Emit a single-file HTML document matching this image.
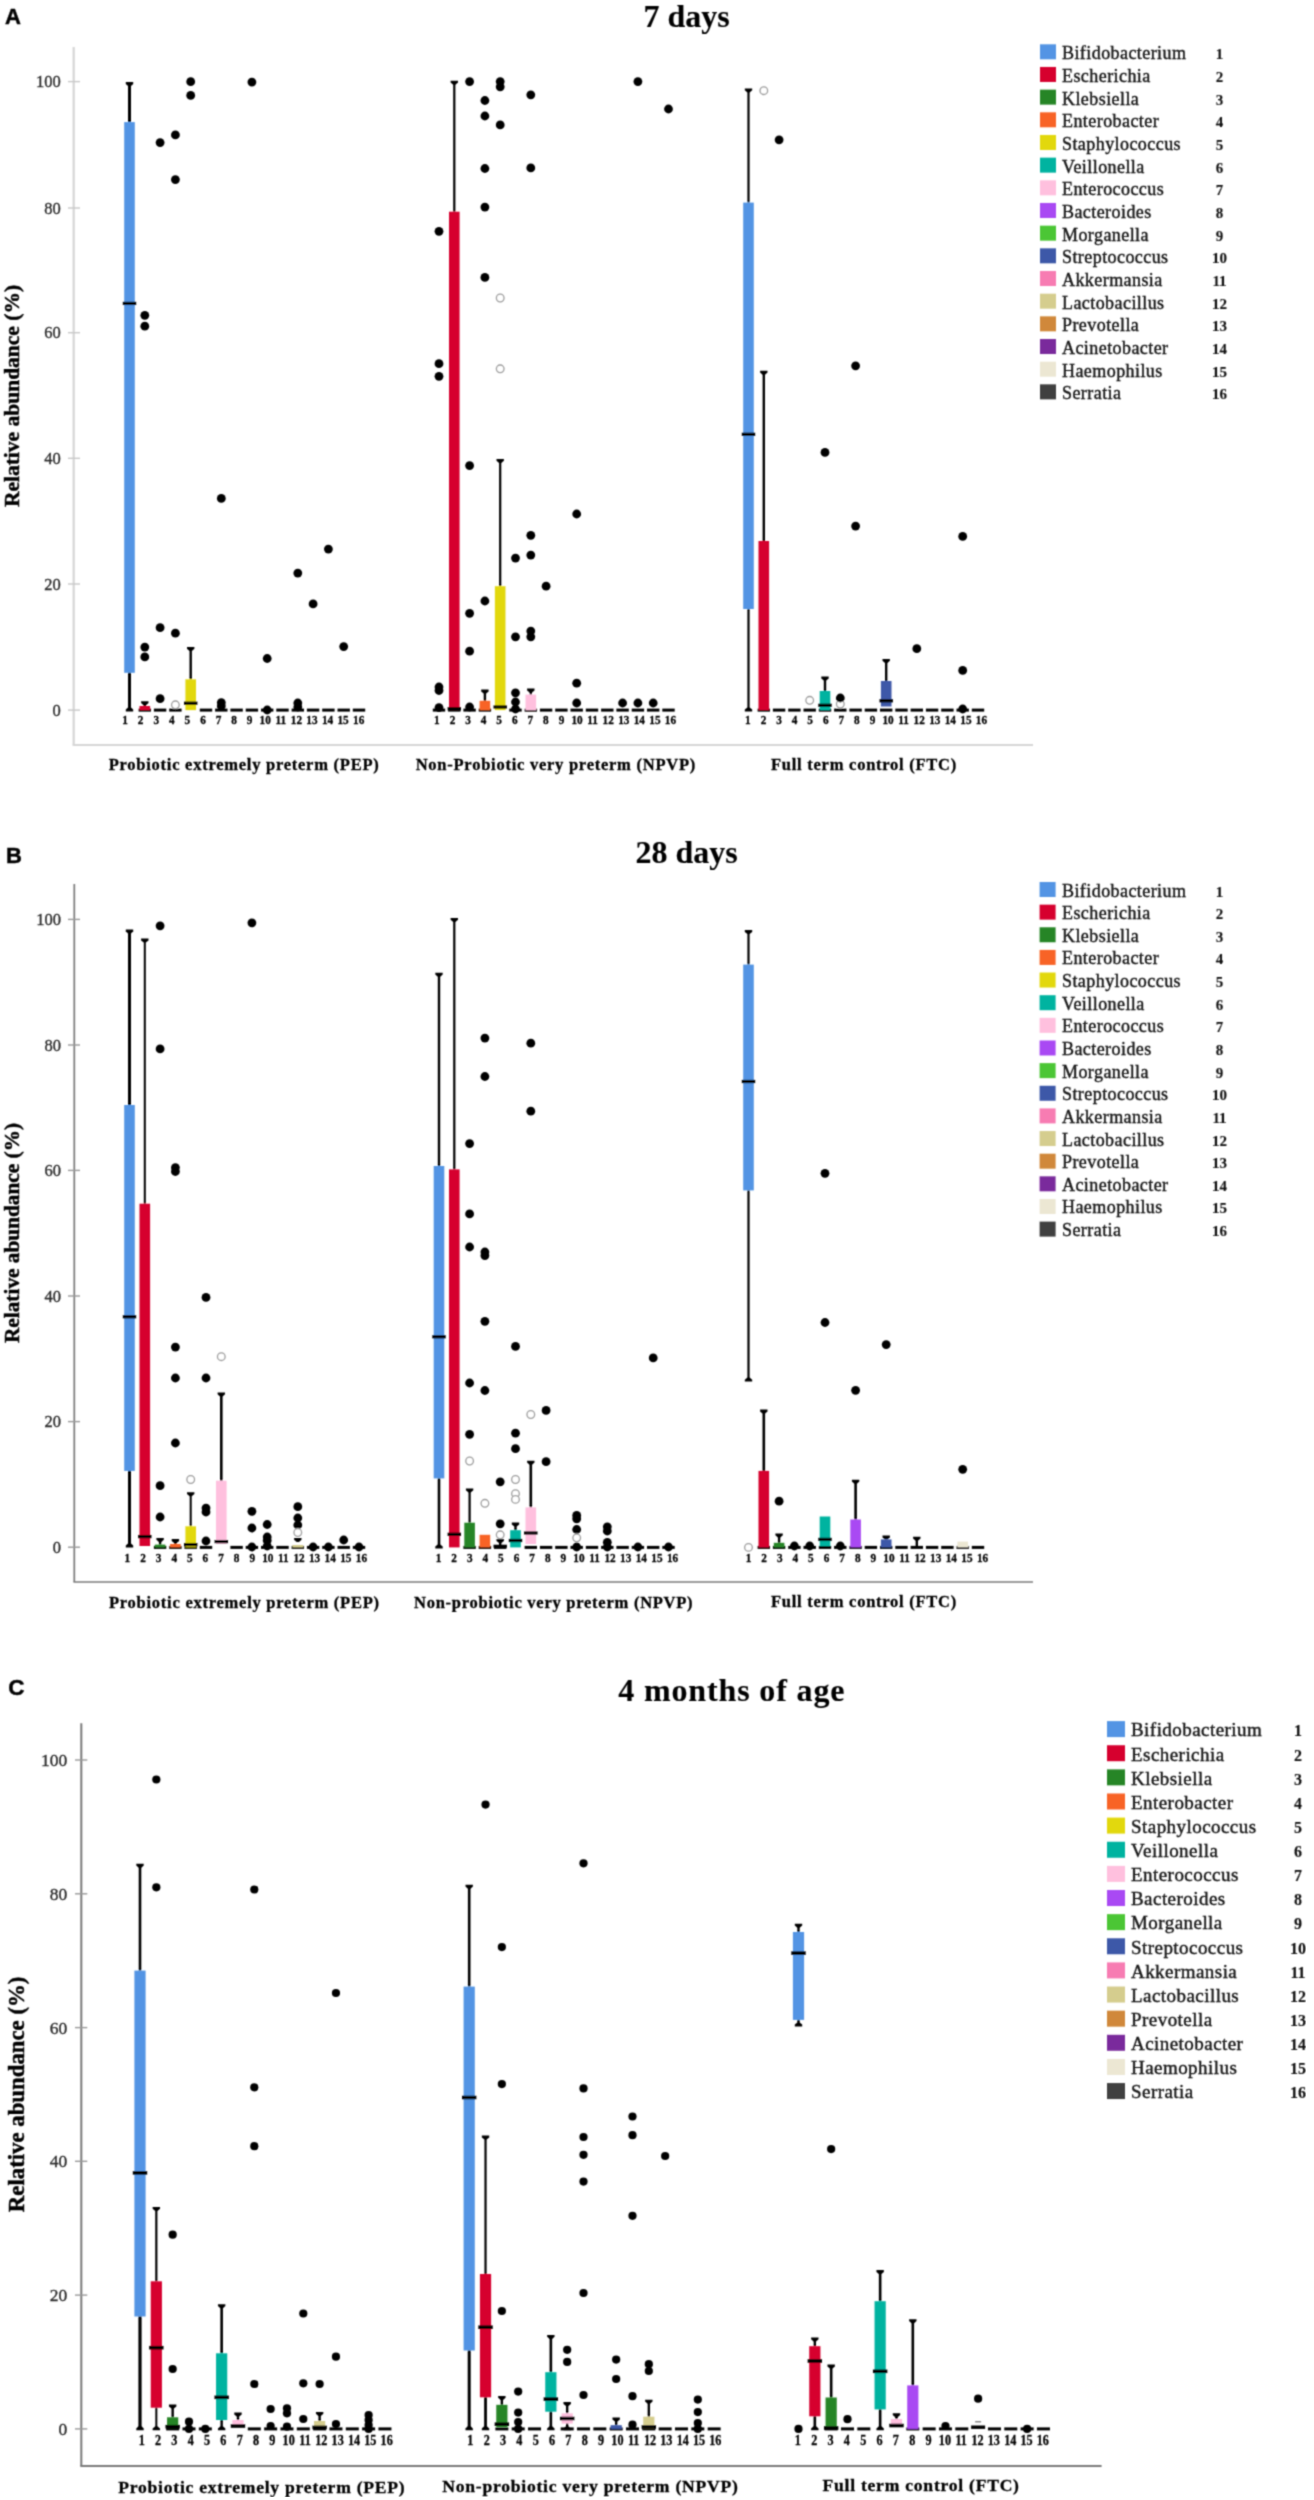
<!DOCTYPE html>
<html><head><meta charset="utf-8"><title>Relative abundance box plots</title>
<style>html,body{margin:0;padding:0;background:#fff;} svg{display:block;}</style></head>
<body><svg width="1314" height="2500" viewBox="0 0 1314 2500">
<defs><filter id="bl" x="0" y="0" width="100%" height="100%"><feConvolveMatrix order="3" kernelMatrix="0.04 0.12 0.04 0.12 0.36 0.12 0.04 0.12 0.04" divisor="1" preserveAlpha="false" edgeMode="none"/></filter></defs>
<rect x="0" y="0" width="1314" height="2500" fill="#fff"/>
<g filter="url(#bl)">
<text x="5.00" y="24.00" font-family="Liberation Sans" font-size="22" font-weight="bold" text-anchor="start" fill="#000" stroke="#000" stroke-width="0.45" >A</text>
<text x="686.70" y="26.90" font-family="Liberation Serif" font-size="32" font-weight="bold" text-anchor="middle" fill="#000" stroke="#000" stroke-width="0.1" >7 days</text>
<line x1="73.7" y1="47" x2="73.7" y2="745" stroke="#d6d6d6" stroke-width="2.2"/>
<line x1="72.60000000000001" y1="745" x2="1033" y2="745" stroke="#d6d6d6" stroke-width="2.2"/>
<line x1="68" y1="81.6" x2="80" y2="81.6" stroke="#c8c8c8" stroke-width="1.4"/>
<text x="60.80" y="87.21" font-family="Liberation Serif" font-size="16.5" font-weight="normal" text-anchor="end" fill="#2a2a2a" stroke="#2a2a2a" stroke-width="0.35" >100</text>
<line x1="68" y1="208" x2="80" y2="208" stroke="#c8c8c8" stroke-width="1.4"/>
<text x="60.80" y="213.61" font-family="Liberation Serif" font-size="16.5" font-weight="normal" text-anchor="end" fill="#2a2a2a" stroke="#2a2a2a" stroke-width="0.35" >80</text>
<line x1="68" y1="332.7" x2="80" y2="332.7" stroke="#c8c8c8" stroke-width="1.4"/>
<text x="60.80" y="338.31" font-family="Liberation Serif" font-size="16.5" font-weight="normal" text-anchor="end" fill="#2a2a2a" stroke="#2a2a2a" stroke-width="0.35" >60</text>
<line x1="68" y1="458.3" x2="80" y2="458.3" stroke="#c8c8c8" stroke-width="1.4"/>
<text x="60.80" y="463.91" font-family="Liberation Serif" font-size="16.5" font-weight="normal" text-anchor="end" fill="#2a2a2a" stroke="#2a2a2a" stroke-width="0.35" >40</text>
<line x1="68" y1="584" x2="80" y2="584" stroke="#c8c8c8" stroke-width="1.4"/>
<text x="60.80" y="589.61" font-family="Liberation Serif" font-size="16.5" font-weight="normal" text-anchor="end" fill="#2a2a2a" stroke="#2a2a2a" stroke-width="0.35" >20</text>
<line x1="68" y1="710.1" x2="80" y2="710.1" stroke="#c8c8c8" stroke-width="1.4"/>
<text x="60.80" y="715.71" font-family="Liberation Serif" font-size="16.5" font-weight="normal" text-anchor="end" fill="#2a2a2a" stroke="#2a2a2a" stroke-width="0.35" >0</text>
<text x="19.00" y="396.00" font-family="Liberation Serif" font-size="21.5" font-weight="bold" text-anchor="middle" fill="#000" stroke="#000" stroke-width="0.45" transform="rotate(-90 19 396)">Relative abundance (%)</text>
<text x="108.70" y="770.00" font-family="Liberation Serif" font-size="16.5" font-weight="bold" text-anchor="start" fill="#000" stroke="#000" stroke-width="0.3" letter-spacing="0.75">Probiotic extremely preterm (PEP)</text>
<text x="415.70" y="770.00" font-family="Liberation Serif" font-size="16.5" font-weight="bold" text-anchor="start" fill="#000" stroke="#000" stroke-width="0.3" letter-spacing="0.75">Non-Probiotic very preterm (NPVP)</text>
<text x="771.00" y="770.00" font-family="Liberation Serif" font-size="16.5" font-weight="bold" text-anchor="start" fill="#000" stroke="#000" stroke-width="0.3" letter-spacing="0.75">Full term control (FTC)</text>
<rect x="1040.00" y="44.30" width="16.00" height="15.00" fill="#5294e4"/>
<text x="1062.00" y="59.30" font-family="Liberation Serif" font-size="18" font-weight="normal" text-anchor="start" fill="#151515" stroke="#151515" stroke-width="0.4" letter-spacing="0.43">Bifidobacterium</text>
<text x="1219.50" y="59.30" font-family="Liberation Serif" font-size="15" font-weight="bold" text-anchor="middle" fill="#111" stroke="#111" stroke-width="0.1" >1</text>
<rect x="1040.00" y="66.97" width="16.00" height="15.00" fill="#d6002f"/>
<text x="1062.00" y="81.97" font-family="Liberation Serif" font-size="18" font-weight="normal" text-anchor="start" fill="#151515" stroke="#151515" stroke-width="0.4" letter-spacing="0.43">Escherichia</text>
<text x="1219.50" y="81.97" font-family="Liberation Serif" font-size="15" font-weight="bold" text-anchor="middle" fill="#111" stroke="#111" stroke-width="0.1" >2</text>
<rect x="1040.00" y="89.64" width="16.00" height="15.00" fill="#288528"/>
<text x="1062.00" y="104.64" font-family="Liberation Serif" font-size="18" font-weight="normal" text-anchor="start" fill="#151515" stroke="#151515" stroke-width="0.4" letter-spacing="0.43">Klebsiella</text>
<text x="1219.50" y="104.64" font-family="Liberation Serif" font-size="15" font-weight="bold" text-anchor="middle" fill="#111" stroke="#111" stroke-width="0.1" >3</text>
<rect x="1040.00" y="112.31" width="16.00" height="15.00" fill="#f86428"/>
<text x="1062.00" y="127.31" font-family="Liberation Serif" font-size="18" font-weight="normal" text-anchor="start" fill="#151515" stroke="#151515" stroke-width="0.4" letter-spacing="0.43">Enterobacter</text>
<text x="1219.50" y="127.31" font-family="Liberation Serif" font-size="15" font-weight="bold" text-anchor="middle" fill="#111" stroke="#111" stroke-width="0.1" >4</text>
<rect x="1040.00" y="134.98" width="16.00" height="15.00" fill="#e2d80e"/>
<text x="1062.00" y="149.98" font-family="Liberation Serif" font-size="18" font-weight="normal" text-anchor="start" fill="#151515" stroke="#151515" stroke-width="0.4" letter-spacing="0.43">Staphylococcus</text>
<text x="1219.50" y="149.98" font-family="Liberation Serif" font-size="15" font-weight="bold" text-anchor="middle" fill="#111" stroke="#111" stroke-width="0.1" >5</text>
<rect x="1040.00" y="157.65" width="16.00" height="15.00" fill="#02b3a0"/>
<text x="1062.00" y="172.65" font-family="Liberation Serif" font-size="18" font-weight="normal" text-anchor="start" fill="#151515" stroke="#151515" stroke-width="0.4" letter-spacing="0.43">Veillonella</text>
<text x="1219.50" y="172.65" font-family="Liberation Serif" font-size="15" font-weight="bold" text-anchor="middle" fill="#111" stroke="#111" stroke-width="0.1" >6</text>
<rect x="1040.00" y="180.32" width="16.00" height="15.00" fill="#ffc0de"/>
<text x="1062.00" y="195.32" font-family="Liberation Serif" font-size="18" font-weight="normal" text-anchor="start" fill="#151515" stroke="#151515" stroke-width="0.4" letter-spacing="0.43">Enterococcus</text>
<text x="1219.50" y="195.32" font-family="Liberation Serif" font-size="15" font-weight="bold" text-anchor="middle" fill="#111" stroke="#111" stroke-width="0.1" >7</text>
<rect x="1040.00" y="202.99" width="16.00" height="15.00" fill="#a94af3"/>
<text x="1062.00" y="217.99" font-family="Liberation Serif" font-size="18" font-weight="normal" text-anchor="start" fill="#151515" stroke="#151515" stroke-width="0.4" letter-spacing="0.43">Bacteroides</text>
<text x="1219.50" y="217.99" font-family="Liberation Serif" font-size="15" font-weight="bold" text-anchor="middle" fill="#111" stroke="#111" stroke-width="0.1" >8</text>
<rect x="1040.00" y="225.66" width="16.00" height="15.00" fill="#4cc634"/>
<text x="1062.00" y="240.66" font-family="Liberation Serif" font-size="18" font-weight="normal" text-anchor="start" fill="#151515" stroke="#151515" stroke-width="0.4" letter-spacing="0.43">Morganella</text>
<text x="1219.50" y="240.66" font-family="Liberation Serif" font-size="15" font-weight="bold" text-anchor="middle" fill="#111" stroke="#111" stroke-width="0.1" >9</text>
<rect x="1040.00" y="248.33" width="16.00" height="15.00" fill="#3e59a8"/>
<text x="1062.00" y="263.33" font-family="Liberation Serif" font-size="18" font-weight="normal" text-anchor="start" fill="#151515" stroke="#151515" stroke-width="0.4" letter-spacing="0.43">Streptococcus</text>
<text x="1219.50" y="263.33" font-family="Liberation Serif" font-size="15" font-weight="bold" text-anchor="middle" fill="#111" stroke="#111" stroke-width="0.1" >10</text>
<rect x="1040.00" y="271.00" width="16.00" height="15.00" fill="#f77bb2"/>
<text x="1062.00" y="286.00" font-family="Liberation Serif" font-size="18" font-weight="normal" text-anchor="start" fill="#151515" stroke="#151515" stroke-width="0.4" letter-spacing="0.43">Akkermansia</text>
<text x="1219.50" y="286.00" font-family="Liberation Serif" font-size="15" font-weight="bold" text-anchor="middle" fill="#111" stroke="#111" stroke-width="0.1" >11</text>
<rect x="1040.00" y="293.67" width="16.00" height="15.00" fill="#d5cd8e"/>
<text x="1062.00" y="308.67" font-family="Liberation Serif" font-size="18" font-weight="normal" text-anchor="start" fill="#151515" stroke="#151515" stroke-width="0.4" letter-spacing="0.43">Lactobacillus</text>
<text x="1219.50" y="308.67" font-family="Liberation Serif" font-size="15" font-weight="bold" text-anchor="middle" fill="#111" stroke="#111" stroke-width="0.1" >12</text>
<rect x="1040.00" y="316.34" width="16.00" height="15.00" fill="#d0883a"/>
<text x="1062.00" y="331.34" font-family="Liberation Serif" font-size="18" font-weight="normal" text-anchor="start" fill="#151515" stroke="#151515" stroke-width="0.4" letter-spacing="0.43">Prevotella</text>
<text x="1219.50" y="331.34" font-family="Liberation Serif" font-size="15" font-weight="bold" text-anchor="middle" fill="#111" stroke="#111" stroke-width="0.1" >13</text>
<rect x="1040.00" y="339.01" width="16.00" height="15.00" fill="#7a2c9c"/>
<text x="1062.00" y="354.01" font-family="Liberation Serif" font-size="18" font-weight="normal" text-anchor="start" fill="#151515" stroke="#151515" stroke-width="0.4" letter-spacing="0.43">Acinetobacter</text>
<text x="1219.50" y="354.01" font-family="Liberation Serif" font-size="15" font-weight="bold" text-anchor="middle" fill="#111" stroke="#111" stroke-width="0.1" >14</text>
<rect x="1040.00" y="361.68" width="16.00" height="15.00" fill="#ece7d3"/>
<text x="1062.00" y="376.68" font-family="Liberation Serif" font-size="18" font-weight="normal" text-anchor="start" fill="#151515" stroke="#151515" stroke-width="0.4" letter-spacing="0.43">Haemophilus</text>
<text x="1219.50" y="376.68" font-family="Liberation Serif" font-size="15" font-weight="bold" text-anchor="middle" fill="#111" stroke="#111" stroke-width="0.1" >15</text>
<rect x="1040.00" y="384.35" width="16.00" height="15.00" fill="#404040"/>
<text x="1062.00" y="399.35" font-family="Liberation Serif" font-size="18" font-weight="normal" text-anchor="start" fill="#151515" stroke="#151515" stroke-width="0.4" letter-spacing="0.43">Serratia</text>
<text x="1219.50" y="399.35" font-family="Liberation Serif" font-size="15" font-weight="bold" text-anchor="middle" fill="#111" stroke="#111" stroke-width="0.1" >16</text>
<rect x="138.60" y="708.60" width="12.40" height="3.00" fill="#000"/>
<rect x="153.90" y="708.60" width="12.40" height="3.00" fill="#000"/>
<rect x="169.20" y="708.60" width="12.40" height="3.00" fill="#000"/>
<rect x="199.80" y="708.60" width="12.40" height="3.00" fill="#000"/>
<rect x="215.10" y="708.60" width="12.40" height="3.00" fill="#000"/>
<rect x="230.40" y="708.60" width="12.40" height="3.00" fill="#000"/>
<rect x="245.70" y="708.60" width="12.40" height="3.00" fill="#000"/>
<rect x="261.00" y="708.60" width="12.40" height="3.00" fill="#000"/>
<rect x="276.30" y="708.60" width="12.40" height="3.00" fill="#000"/>
<rect x="291.60" y="708.60" width="12.40" height="3.00" fill="#000"/>
<rect x="306.90" y="708.60" width="12.40" height="3.00" fill="#000"/>
<rect x="322.20" y="708.60" width="12.40" height="3.00" fill="#000"/>
<rect x="337.50" y="708.60" width="12.40" height="3.00" fill="#000"/>
<rect x="352.80" y="708.60" width="12.40" height="3.00" fill="#000"/>
<rect x="432.80" y="708.60" width="12.40" height="3.00" fill="#000"/>
<rect x="448.10" y="708.60" width="12.40" height="3.00" fill="#000"/>
<rect x="463.40" y="708.60" width="12.40" height="3.00" fill="#000"/>
<rect x="478.70" y="708.60" width="12.40" height="3.00" fill="#000"/>
<rect x="509.30" y="708.60" width="12.40" height="3.00" fill="#000"/>
<rect x="524.60" y="708.60" width="12.40" height="3.00" fill="#000"/>
<rect x="539.90" y="708.60" width="12.40" height="3.00" fill="#000"/>
<rect x="555.20" y="708.60" width="12.40" height="3.00" fill="#000"/>
<rect x="570.50" y="708.60" width="12.40" height="3.00" fill="#000"/>
<rect x="585.80" y="708.60" width="12.40" height="3.00" fill="#000"/>
<rect x="601.10" y="708.60" width="12.40" height="3.00" fill="#000"/>
<rect x="616.40" y="708.60" width="12.40" height="3.00" fill="#000"/>
<rect x="631.70" y="708.60" width="12.40" height="3.00" fill="#000"/>
<rect x="647.00" y="708.60" width="12.40" height="3.00" fill="#000"/>
<rect x="662.30" y="708.60" width="12.40" height="3.00" fill="#000"/>
<rect x="757.60" y="708.60" width="12.40" height="3.00" fill="#000"/>
<rect x="772.90" y="708.60" width="12.40" height="3.00" fill="#000"/>
<rect x="788.20" y="708.60" width="12.40" height="3.00" fill="#000"/>
<rect x="803.50" y="708.60" width="12.40" height="3.00" fill="#000"/>
<rect x="818.80" y="708.60" width="12.40" height="3.00" fill="#000"/>
<rect x="834.10" y="708.60" width="12.40" height="3.00" fill="#000"/>
<rect x="849.40" y="708.60" width="12.40" height="3.00" fill="#000"/>
<rect x="864.70" y="708.60" width="12.40" height="3.00" fill="#000"/>
<rect x="880.00" y="708.60" width="12.40" height="3.00" fill="#000"/>
<rect x="895.30" y="708.60" width="12.40" height="3.00" fill="#000"/>
<rect x="910.60" y="708.60" width="12.40" height="3.00" fill="#000"/>
<rect x="925.90" y="708.60" width="12.40" height="3.00" fill="#000"/>
<rect x="941.20" y="708.60" width="12.40" height="3.00" fill="#000"/>
<rect x="956.50" y="708.60" width="12.40" height="3.00" fill="#000"/>
<rect x="971.80" y="708.60" width="12.40" height="3.00" fill="#000"/>
<rect x="128.00" y="83.50" width="3.00" height="38.60" fill="#000"/>
<polygon points="125.80,82.10 133.20,82.10 133.20,83.90 131.00,86.10 128.00,86.10 125.80,83.90" fill="#000"/>
<rect x="124.20" y="122.10" width="10.60" height="550.70" fill="#5294e4"/>
<rect x="122.80" y="301.75" width="13.40" height="3.30" fill="#000"/>
<rect x="128.00" y="672.80" width="3.00" height="37.20" fill="#000"/>
<polygon points="125.80,711.40 133.20,711.40 133.20,709.60 131.00,707.40 128.00,707.40 125.80,709.60" fill="#000"/>
<rect x="143.60" y="702.60" width="2.40" height="4.40" fill="#000"/>
<polygon points="141.10,701.20 148.50,701.20 148.50,703.00 146.00,705.20 143.60,705.20 141.10,703.00" fill="#000"/>
<rect x="139.50" y="706.00" width="10.60" height="4.10" fill="#d6002f"/>
<circle cx="144.80" cy="315.30" r="4.4" fill="#000"/>
<circle cx="144.80" cy="326.20" r="4.4" fill="#000"/>
<circle cx="144.80" cy="647.10" r="4.4" fill="#000"/>
<circle cx="144.80" cy="656.90" r="4.4" fill="#000"/>
<circle cx="160.10" cy="142.60" r="4.4" fill="#000"/>
<circle cx="160.10" cy="627.70" r="4.4" fill="#000"/>
<circle cx="160.10" cy="698.70" r="4.4" fill="#000"/>
<circle cx="175.40" cy="134.90" r="4.4" fill="#000"/>
<circle cx="175.40" cy="179.60" r="4.4" fill="#000"/>
<circle cx="175.40" cy="633.20" r="4.4" fill="#000"/>
<circle cx="175.40" cy="704.80" r="3.8000000000000003" fill="#fff" stroke="#999" stroke-width="1.3"/>
<rect x="189.50" y="648.40" width="2.40" height="30.90" fill="#000"/>
<polygon points="187.00,647.00 194.40,647.00 194.40,648.80 191.90,651.00 189.50,651.00 187.00,648.80" fill="#000"/>
<rect x="185.40" y="679.30" width="10.60" height="30.80" fill="#e2d80e"/>
<rect x="184.00" y="701.55" width="13.40" height="3.30" fill="#000"/>
<circle cx="190.70" cy="81.70" r="4.4" fill="#000"/>
<circle cx="190.70" cy="95.40" r="4.4" fill="#000"/>
<circle cx="221.30" cy="498.40" r="4.4" fill="#000"/>
<circle cx="221.30" cy="702.60" r="4.4" fill="#000"/>
<circle cx="221.30" cy="706.00" r="4.4" fill="#000"/>
<circle cx="251.90" cy="82.10" r="4.4" fill="#000"/>
<circle cx="267.20" cy="658.50" r="4.4" fill="#000"/>
<circle cx="267.20" cy="710.00" r="4.4" fill="#000"/>
<circle cx="297.80" cy="573.10" r="4.4" fill="#000"/>
<circle cx="297.80" cy="703.00" r="4.4" fill="#000"/>
<circle cx="297.80" cy="707.00" r="4.4" fill="#000"/>
<circle cx="313.10" cy="603.90" r="4.4" fill="#000"/>
<circle cx="328.40" cy="549.10" r="4.4" fill="#000"/>
<circle cx="343.70" cy="646.60" r="4.4" fill="#000"/>
<circle cx="439.00" cy="231.30" r="4.4" fill="#000"/>
<circle cx="439.00" cy="363.70" r="4.4" fill="#000"/>
<circle cx="439.00" cy="376.30" r="4.4" fill="#000"/>
<circle cx="439.00" cy="687.00" r="4.4" fill="#000"/>
<circle cx="439.00" cy="690.50" r="4.4" fill="#000"/>
<circle cx="439.00" cy="707.60" r="4.4" fill="#000"/>
<rect x="453.20" y="82.20" width="2.20" height="129.50" fill="#000"/>
<polygon points="450.60,80.80 458.00,80.80 458.00,82.60 455.40,84.80 453.20,84.80 450.60,82.60" fill="#000"/>
<rect x="449.00" y="211.70" width="10.60" height="498.40" fill="#d6002f"/>
<rect x="447.60" y="707.15" width="13.40" height="3.30" fill="#000"/>
<circle cx="469.60" cy="81.60" r="4.4" fill="#000"/>
<circle cx="469.60" cy="465.60" r="4.4" fill="#000"/>
<circle cx="469.60" cy="613.30" r="4.4" fill="#000"/>
<circle cx="469.60" cy="651.20" r="4.4" fill="#000"/>
<circle cx="469.60" cy="707.00" r="4.4" fill="#000"/>
<circle cx="484.90" cy="100.50" r="4.4" fill="#000"/>
<circle cx="484.90" cy="116.00" r="4.4" fill="#000"/>
<circle cx="484.90" cy="168.50" r="4.4" fill="#000"/>
<circle cx="484.90" cy="207.10" r="4.4" fill="#000"/>
<circle cx="484.90" cy="277.40" r="4.4" fill="#000"/>
<circle cx="484.90" cy="601.00" r="4.4" fill="#000"/>
<rect x="483.70" y="691.00" width="2.40" height="9.80" fill="#000"/>
<polygon points="481.20,689.60 488.60,689.60 488.60,691.40 486.10,693.60 483.70,693.60 481.20,691.40" fill="#000"/>
<rect x="479.60" y="700.80" width="10.60" height="9.30" fill="#f86428"/>
<rect x="499.10" y="460.40" width="2.20" height="125.80" fill="#000"/>
<polygon points="496.50,459.00 503.90,459.00 503.90,460.80 501.30,463.00 499.10,463.00 496.50,460.80" fill="#000"/>
<rect x="494.90" y="586.20" width="10.60" height="123.90" fill="#e2d80e"/>
<rect x="493.50" y="705.35" width="13.40" height="3.30" fill="#000"/>
<circle cx="500.20" cy="81.60" r="4.4" fill="#000"/>
<circle cx="500.20" cy="86.80" r="4.4" fill="#000"/>
<circle cx="500.20" cy="124.90" r="4.4" fill="#000"/>
<circle cx="500.20" cy="298.00" r="3.8000000000000003" fill="#fff" stroke="#999" stroke-width="1.3"/>
<circle cx="500.20" cy="368.80" r="3.8000000000000003" fill="#fff" stroke="#999" stroke-width="1.3"/>
<circle cx="515.50" cy="558.10" r="4.4" fill="#000"/>
<circle cx="515.50" cy="636.80" r="4.4" fill="#000"/>
<circle cx="515.50" cy="692.80" r="4.4" fill="#000"/>
<circle cx="515.50" cy="702.00" r="4.4" fill="#000"/>
<circle cx="515.50" cy="709.00" r="4.4" fill="#000"/>
<rect x="529.60" y="690.00" width="2.40" height="4.60" fill="#000"/>
<polygon points="527.10,688.60 534.50,688.60 534.50,690.40 532.00,692.60 529.60,692.60 527.10,690.40" fill="#000"/>
<rect x="525.50" y="694.60" width="10.60" height="15.50" fill="#ffc0de"/>
<circle cx="530.80" cy="94.80" r="4.4" fill="#000"/>
<circle cx="530.80" cy="167.90" r="4.4" fill="#000"/>
<circle cx="530.80" cy="535.30" r="4.4" fill="#000"/>
<circle cx="530.80" cy="555.10" r="4.4" fill="#000"/>
<circle cx="530.80" cy="631.10" r="4.4" fill="#000"/>
<circle cx="530.80" cy="636.80" r="4.4" fill="#000"/>
<circle cx="546.10" cy="586.20" r="4.4" fill="#000"/>
<circle cx="576.70" cy="514.00" r="4.4" fill="#000"/>
<circle cx="576.70" cy="683.20" r="4.4" fill="#000"/>
<circle cx="576.70" cy="703.00" r="4.4" fill="#000"/>
<circle cx="622.60" cy="703.00" r="4.4" fill="#000"/>
<circle cx="637.90" cy="81.60" r="4.4" fill="#000"/>
<circle cx="637.90" cy="703.00" r="4.4" fill="#000"/>
<circle cx="653.20" cy="703.00" r="4.4" fill="#000"/>
<circle cx="668.50" cy="109.00" r="4.4" fill="#000"/>
<rect x="747.40" y="89.80" width="2.20" height="112.80" fill="#000"/>
<polygon points="744.80,88.40 752.20,88.40 752.20,90.20 749.60,92.40 747.40,92.40 744.80,90.20" fill="#000"/>
<rect x="743.20" y="202.60" width="10.60" height="406.40" fill="#5294e4"/>
<rect x="741.80" y="432.65" width="13.40" height="3.30" fill="#000"/>
<rect x="747.40" y="609.00" width="2.20" height="101.00" fill="#000"/>
<polygon points="744.80,711.40 752.20,711.40 752.20,709.60 749.60,707.40 747.40,707.40 744.80,709.60" fill="#000"/>
<rect x="762.60" y="372.20" width="2.40" height="168.80" fill="#000"/>
<polygon points="760.10,370.80 767.50,370.80 767.50,372.60 765.00,374.80 762.60,374.80 760.10,372.60" fill="#000"/>
<rect x="758.50" y="541.00" width="10.60" height="169.10" fill="#d6002f"/>
<circle cx="763.80" cy="90.70" r="3.8000000000000003" fill="#fff" stroke="#999" stroke-width="1.3"/>
<circle cx="779.10" cy="139.80" r="4.4" fill="#000"/>
<circle cx="809.70" cy="700.30" r="3.8000000000000003" fill="#fff" stroke="#999" stroke-width="1.3"/>
<rect x="823.80" y="678.00" width="2.40" height="13.00" fill="#000"/>
<polygon points="821.30,676.60 828.70,676.60 828.70,678.40 826.20,680.60 823.80,680.60 821.30,678.40" fill="#000"/>
<rect x="819.70" y="691.00" width="10.60" height="19.10" fill="#02b3a0"/>
<rect x="818.30" y="703.65" width="13.40" height="3.30" fill="#000"/>
<circle cx="825.00" cy="452.40" r="4.4" fill="#000"/>
<circle cx="840.30" cy="704.00" r="3.8000000000000003" fill="#fff" stroke="#999" stroke-width="1.3"/>
<circle cx="840.30" cy="698.00" r="4.4" fill="#000"/>
<circle cx="855.60" cy="365.80" r="4.4" fill="#000"/>
<circle cx="855.60" cy="526.10" r="4.4" fill="#000"/>
<rect x="885.00" y="660.40" width="2.40" height="20.60" fill="#000"/>
<polygon points="882.50,659.00 889.90,659.00 889.90,660.80 887.40,663.00 885.00,663.00 882.50,660.80" fill="#000"/>
<rect x="880.90" y="681.00" width="10.60" height="25.50" fill="#3e59a8"/>
<rect x="879.50" y="699.15" width="13.40" height="3.30" fill="#000"/>
<circle cx="916.80" cy="648.70" r="4.4" fill="#000"/>
<circle cx="962.70" cy="536.40" r="4.4" fill="#000"/>
<circle cx="962.70" cy="670.40" r="4.4" fill="#000"/>
<circle cx="962.70" cy="709.00" r="4.4" fill="#000"/>
<text transform="translate(125.10 723.60) scale(0.9 1.04)" x="0" y="0" font-family="Liberation Serif" font-size="12.5" font-weight="bold" text-anchor="middle" fill="#000" stroke="#000" stroke-width="0.3">1</text>
<text transform="translate(140.67 723.60) scale(0.9 1.04)" x="0" y="0" font-family="Liberation Serif" font-size="12.5" font-weight="bold" text-anchor="middle" fill="#000" stroke="#000" stroke-width="0.3">2</text>
<text transform="translate(156.24 723.60) scale(0.9 1.04)" x="0" y="0" font-family="Liberation Serif" font-size="12.5" font-weight="bold" text-anchor="middle" fill="#000" stroke="#000" stroke-width="0.3">3</text>
<text transform="translate(171.81 723.60) scale(0.9 1.04)" x="0" y="0" font-family="Liberation Serif" font-size="12.5" font-weight="bold" text-anchor="middle" fill="#000" stroke="#000" stroke-width="0.3">4</text>
<text transform="translate(187.38 723.60) scale(0.9 1.04)" x="0" y="0" font-family="Liberation Serif" font-size="12.5" font-weight="bold" text-anchor="middle" fill="#000" stroke="#000" stroke-width="0.3">5</text>
<text transform="translate(202.95 723.60) scale(0.9 1.04)" x="0" y="0" font-family="Liberation Serif" font-size="12.5" font-weight="bold" text-anchor="middle" fill="#000" stroke="#000" stroke-width="0.3">6</text>
<text transform="translate(218.52 723.60) scale(0.9 1.04)" x="0" y="0" font-family="Liberation Serif" font-size="12.5" font-weight="bold" text-anchor="middle" fill="#000" stroke="#000" stroke-width="0.3">7</text>
<text transform="translate(234.09 723.60) scale(0.9 1.04)" x="0" y="0" font-family="Liberation Serif" font-size="12.5" font-weight="bold" text-anchor="middle" fill="#000" stroke="#000" stroke-width="0.3">8</text>
<text transform="translate(249.66 723.60) scale(0.9 1.04)" x="0" y="0" font-family="Liberation Serif" font-size="12.5" font-weight="bold" text-anchor="middle" fill="#000" stroke="#000" stroke-width="0.3">9</text>
<text transform="translate(265.23 723.60) scale(0.9 1.04)" x="0" y="0" font-family="Liberation Serif" font-size="12.5" font-weight="bold" text-anchor="middle" fill="#000" stroke="#000" stroke-width="0.3">10</text>
<text transform="translate(280.80 723.60) scale(0.9 1.04)" x="0" y="0" font-family="Liberation Serif" font-size="12.5" font-weight="bold" text-anchor="middle" fill="#000" stroke="#000" stroke-width="0.3">11</text>
<text transform="translate(296.37 723.60) scale(0.9 1.04)" x="0" y="0" font-family="Liberation Serif" font-size="12.5" font-weight="bold" text-anchor="middle" fill="#000" stroke="#000" stroke-width="0.3">12</text>
<text transform="translate(311.94 723.60) scale(0.9 1.04)" x="0" y="0" font-family="Liberation Serif" font-size="12.5" font-weight="bold" text-anchor="middle" fill="#000" stroke="#000" stroke-width="0.3">13</text>
<text transform="translate(327.51 723.60) scale(0.9 1.04)" x="0" y="0" font-family="Liberation Serif" font-size="12.5" font-weight="bold" text-anchor="middle" fill="#000" stroke="#000" stroke-width="0.3">14</text>
<text transform="translate(343.08 723.60) scale(0.9 1.04)" x="0" y="0" font-family="Liberation Serif" font-size="12.5" font-weight="bold" text-anchor="middle" fill="#000" stroke="#000" stroke-width="0.3">15</text>
<text transform="translate(358.65 723.60) scale(0.9 1.04)" x="0" y="0" font-family="Liberation Serif" font-size="12.5" font-weight="bold" text-anchor="middle" fill="#000" stroke="#000" stroke-width="0.3">16</text>
<text transform="translate(436.90 723.60) scale(0.9 1.04)" x="0" y="0" font-family="Liberation Serif" font-size="12.5" font-weight="bold" text-anchor="middle" fill="#000" stroke="#000" stroke-width="0.3">1</text>
<text transform="translate(452.47 723.60) scale(0.9 1.04)" x="0" y="0" font-family="Liberation Serif" font-size="12.5" font-weight="bold" text-anchor="middle" fill="#000" stroke="#000" stroke-width="0.3">2</text>
<text transform="translate(468.04 723.60) scale(0.9 1.04)" x="0" y="0" font-family="Liberation Serif" font-size="12.5" font-weight="bold" text-anchor="middle" fill="#000" stroke="#000" stroke-width="0.3">3</text>
<text transform="translate(483.61 723.60) scale(0.9 1.04)" x="0" y="0" font-family="Liberation Serif" font-size="12.5" font-weight="bold" text-anchor="middle" fill="#000" stroke="#000" stroke-width="0.3">4</text>
<text transform="translate(499.18 723.60) scale(0.9 1.04)" x="0" y="0" font-family="Liberation Serif" font-size="12.5" font-weight="bold" text-anchor="middle" fill="#000" stroke="#000" stroke-width="0.3">5</text>
<text transform="translate(514.75 723.60) scale(0.9 1.04)" x="0" y="0" font-family="Liberation Serif" font-size="12.5" font-weight="bold" text-anchor="middle" fill="#000" stroke="#000" stroke-width="0.3">6</text>
<text transform="translate(530.32 723.60) scale(0.9 1.04)" x="0" y="0" font-family="Liberation Serif" font-size="12.5" font-weight="bold" text-anchor="middle" fill="#000" stroke="#000" stroke-width="0.3">7</text>
<text transform="translate(545.89 723.60) scale(0.9 1.04)" x="0" y="0" font-family="Liberation Serif" font-size="12.5" font-weight="bold" text-anchor="middle" fill="#000" stroke="#000" stroke-width="0.3">8</text>
<text transform="translate(561.46 723.60) scale(0.9 1.04)" x="0" y="0" font-family="Liberation Serif" font-size="12.5" font-weight="bold" text-anchor="middle" fill="#000" stroke="#000" stroke-width="0.3">9</text>
<text transform="translate(577.03 723.60) scale(0.9 1.04)" x="0" y="0" font-family="Liberation Serif" font-size="12.5" font-weight="bold" text-anchor="middle" fill="#000" stroke="#000" stroke-width="0.3">10</text>
<text transform="translate(592.60 723.60) scale(0.9 1.04)" x="0" y="0" font-family="Liberation Serif" font-size="12.5" font-weight="bold" text-anchor="middle" fill="#000" stroke="#000" stroke-width="0.3">11</text>
<text transform="translate(608.17 723.60) scale(0.9 1.04)" x="0" y="0" font-family="Liberation Serif" font-size="12.5" font-weight="bold" text-anchor="middle" fill="#000" stroke="#000" stroke-width="0.3">12</text>
<text transform="translate(623.74 723.60) scale(0.9 1.04)" x="0" y="0" font-family="Liberation Serif" font-size="12.5" font-weight="bold" text-anchor="middle" fill="#000" stroke="#000" stroke-width="0.3">13</text>
<text transform="translate(639.31 723.60) scale(0.9 1.04)" x="0" y="0" font-family="Liberation Serif" font-size="12.5" font-weight="bold" text-anchor="middle" fill="#000" stroke="#000" stroke-width="0.3">14</text>
<text transform="translate(654.88 723.60) scale(0.9 1.04)" x="0" y="0" font-family="Liberation Serif" font-size="12.5" font-weight="bold" text-anchor="middle" fill="#000" stroke="#000" stroke-width="0.3">15</text>
<text transform="translate(670.45 723.60) scale(0.9 1.04)" x="0" y="0" font-family="Liberation Serif" font-size="12.5" font-weight="bold" text-anchor="middle" fill="#000" stroke="#000" stroke-width="0.3">16</text>
<text transform="translate(747.90 723.60) scale(0.9 1.04)" x="0" y="0" font-family="Liberation Serif" font-size="12.5" font-weight="bold" text-anchor="middle" fill="#000" stroke="#000" stroke-width="0.3">1</text>
<text transform="translate(763.47 723.60) scale(0.9 1.04)" x="0" y="0" font-family="Liberation Serif" font-size="12.5" font-weight="bold" text-anchor="middle" fill="#000" stroke="#000" stroke-width="0.3">2</text>
<text transform="translate(779.04 723.60) scale(0.9 1.04)" x="0" y="0" font-family="Liberation Serif" font-size="12.5" font-weight="bold" text-anchor="middle" fill="#000" stroke="#000" stroke-width="0.3">3</text>
<text transform="translate(794.61 723.60) scale(0.9 1.04)" x="0" y="0" font-family="Liberation Serif" font-size="12.5" font-weight="bold" text-anchor="middle" fill="#000" stroke="#000" stroke-width="0.3">4</text>
<text transform="translate(810.18 723.60) scale(0.9 1.04)" x="0" y="0" font-family="Liberation Serif" font-size="12.5" font-weight="bold" text-anchor="middle" fill="#000" stroke="#000" stroke-width="0.3">5</text>
<text transform="translate(825.75 723.60) scale(0.9 1.04)" x="0" y="0" font-family="Liberation Serif" font-size="12.5" font-weight="bold" text-anchor="middle" fill="#000" stroke="#000" stroke-width="0.3">6</text>
<text transform="translate(841.32 723.60) scale(0.9 1.04)" x="0" y="0" font-family="Liberation Serif" font-size="12.5" font-weight="bold" text-anchor="middle" fill="#000" stroke="#000" stroke-width="0.3">7</text>
<text transform="translate(856.89 723.60) scale(0.9 1.04)" x="0" y="0" font-family="Liberation Serif" font-size="12.5" font-weight="bold" text-anchor="middle" fill="#000" stroke="#000" stroke-width="0.3">8</text>
<text transform="translate(872.46 723.60) scale(0.9 1.04)" x="0" y="0" font-family="Liberation Serif" font-size="12.5" font-weight="bold" text-anchor="middle" fill="#000" stroke="#000" stroke-width="0.3">9</text>
<text transform="translate(888.03 723.60) scale(0.9 1.04)" x="0" y="0" font-family="Liberation Serif" font-size="12.5" font-weight="bold" text-anchor="middle" fill="#000" stroke="#000" stroke-width="0.3">10</text>
<text transform="translate(903.60 723.60) scale(0.9 1.04)" x="0" y="0" font-family="Liberation Serif" font-size="12.5" font-weight="bold" text-anchor="middle" fill="#000" stroke="#000" stroke-width="0.3">11</text>
<text transform="translate(919.17 723.60) scale(0.9 1.04)" x="0" y="0" font-family="Liberation Serif" font-size="12.5" font-weight="bold" text-anchor="middle" fill="#000" stroke="#000" stroke-width="0.3">12</text>
<text transform="translate(934.74 723.60) scale(0.9 1.04)" x="0" y="0" font-family="Liberation Serif" font-size="12.5" font-weight="bold" text-anchor="middle" fill="#000" stroke="#000" stroke-width="0.3">13</text>
<text transform="translate(950.31 723.60) scale(0.9 1.04)" x="0" y="0" font-family="Liberation Serif" font-size="12.5" font-weight="bold" text-anchor="middle" fill="#000" stroke="#000" stroke-width="0.3">14</text>
<text transform="translate(965.88 723.60) scale(0.9 1.04)" x="0" y="0" font-family="Liberation Serif" font-size="12.5" font-weight="bold" text-anchor="middle" fill="#000" stroke="#000" stroke-width="0.3">15</text>
<text transform="translate(981.45 723.60) scale(0.9 1.04)" x="0" y="0" font-family="Liberation Serif" font-size="12.5" font-weight="bold" text-anchor="middle" fill="#000" stroke="#000" stroke-width="0.3">16</text>
<text x="6.00" y="862.70" font-family="Liberation Sans" font-size="22" font-weight="bold" text-anchor="start" fill="#000" stroke="#000" stroke-width="0.45" >B</text>
<text x="686.50" y="863.40" font-family="Liberation Serif" font-size="32" font-weight="bold" text-anchor="middle" fill="#000" stroke="#000" stroke-width="0.1" >28 days</text>
<line x1="74.3" y1="884" x2="74.3" y2="1582" stroke="#7a7a7a" stroke-width="1.7"/>
<line x1="73.45" y1="1582" x2="1033" y2="1582" stroke="#7a7a7a" stroke-width="1.7"/>
<line x1="68" y1="919.4" x2="80" y2="919.4" stroke="#999" stroke-width="1.4"/>
<text x="61.00" y="925.01" font-family="Liberation Serif" font-size="16.5" font-weight="normal" text-anchor="end" fill="#2a2a2a" stroke="#2a2a2a" stroke-width="0.35" >100</text>
<line x1="68" y1="1045" x2="80" y2="1045" stroke="#999" stroke-width="1.4"/>
<text x="61.00" y="1050.61" font-family="Liberation Serif" font-size="16.5" font-weight="normal" text-anchor="end" fill="#2a2a2a" stroke="#2a2a2a" stroke-width="0.35" >80</text>
<line x1="68" y1="1170.4" x2="80" y2="1170.4" stroke="#999" stroke-width="1.4"/>
<text x="61.00" y="1176.01" font-family="Liberation Serif" font-size="16.5" font-weight="normal" text-anchor="end" fill="#2a2a2a" stroke="#2a2a2a" stroke-width="0.35" >60</text>
<line x1="68" y1="1296" x2="80" y2="1296" stroke="#999" stroke-width="1.4"/>
<text x="61.00" y="1301.61" font-family="Liberation Serif" font-size="16.5" font-weight="normal" text-anchor="end" fill="#2a2a2a" stroke="#2a2a2a" stroke-width="0.35" >40</text>
<line x1="68" y1="1421.6" x2="80" y2="1421.6" stroke="#999" stroke-width="1.4"/>
<text x="61.00" y="1427.21" font-family="Liberation Serif" font-size="16.5" font-weight="normal" text-anchor="end" fill="#2a2a2a" stroke="#2a2a2a" stroke-width="0.35" >20</text>
<line x1="68" y1="1547.2" x2="80" y2="1547.2" stroke="#999" stroke-width="1.4"/>
<text x="61.00" y="1552.81" font-family="Liberation Serif" font-size="16.5" font-weight="normal" text-anchor="end" fill="#2a2a2a" stroke="#2a2a2a" stroke-width="0.35" >0</text>
<text x="18.50" y="1233.00" font-family="Liberation Serif" font-size="21.3" font-weight="bold" text-anchor="middle" fill="#000" stroke="#000" stroke-width="0.45" transform="rotate(-90 18.5 1233)">Relative abundance (%)</text>
<text x="109.00" y="1607.50" font-family="Liberation Serif" font-size="16.5" font-weight="bold" text-anchor="start" fill="#000" stroke="#000" stroke-width="0.3" letter-spacing="0.75">Probiotic extremely preterm (PEP)</text>
<text x="414.00" y="1607.50" font-family="Liberation Serif" font-size="16.5" font-weight="bold" text-anchor="start" fill="#000" stroke="#000" stroke-width="0.3" letter-spacing="0.75">Non-probiotic very preterm (NPVP)</text>
<text x="771.00" y="1606.50" font-family="Liberation Serif" font-size="16.5" font-weight="bold" text-anchor="start" fill="#000" stroke="#000" stroke-width="0.3" letter-spacing="0.75">Full term control (FTC)</text>
<rect x="1039.60" y="882.00" width="16.00" height="15.00" fill="#5294e4"/>
<text x="1062.00" y="896.50" font-family="Liberation Serif" font-size="18" font-weight="normal" text-anchor="start" fill="#151515" stroke="#151515" stroke-width="0.4" letter-spacing="0.43">Bifidobacterium</text>
<text x="1219.50" y="896.50" font-family="Liberation Serif" font-size="15" font-weight="bold" text-anchor="middle" fill="#111" stroke="#111" stroke-width="0.1" >1</text>
<rect x="1039.60" y="904.64" width="16.00" height="15.00" fill="#d6002f"/>
<text x="1062.00" y="919.14" font-family="Liberation Serif" font-size="18" font-weight="normal" text-anchor="start" fill="#151515" stroke="#151515" stroke-width="0.4" letter-spacing="0.43">Escherichia</text>
<text x="1219.50" y="919.14" font-family="Liberation Serif" font-size="15" font-weight="bold" text-anchor="middle" fill="#111" stroke="#111" stroke-width="0.1" >2</text>
<rect x="1039.60" y="927.28" width="16.00" height="15.00" fill="#288528"/>
<text x="1062.00" y="941.78" font-family="Liberation Serif" font-size="18" font-weight="normal" text-anchor="start" fill="#151515" stroke="#151515" stroke-width="0.4" letter-spacing="0.43">Klebsiella</text>
<text x="1219.50" y="941.78" font-family="Liberation Serif" font-size="15" font-weight="bold" text-anchor="middle" fill="#111" stroke="#111" stroke-width="0.1" >3</text>
<rect x="1039.60" y="949.92" width="16.00" height="15.00" fill="#f86428"/>
<text x="1062.00" y="964.42" font-family="Liberation Serif" font-size="18" font-weight="normal" text-anchor="start" fill="#151515" stroke="#151515" stroke-width="0.4" letter-spacing="0.43">Enterobacter</text>
<text x="1219.50" y="964.42" font-family="Liberation Serif" font-size="15" font-weight="bold" text-anchor="middle" fill="#111" stroke="#111" stroke-width="0.1" >4</text>
<rect x="1039.60" y="972.56" width="16.00" height="15.00" fill="#e2d80e"/>
<text x="1062.00" y="987.06" font-family="Liberation Serif" font-size="18" font-weight="normal" text-anchor="start" fill="#151515" stroke="#151515" stroke-width="0.4" letter-spacing="0.43">Staphylococcus</text>
<text x="1219.50" y="987.06" font-family="Liberation Serif" font-size="15" font-weight="bold" text-anchor="middle" fill="#111" stroke="#111" stroke-width="0.1" >5</text>
<rect x="1039.60" y="995.20" width="16.00" height="15.00" fill="#02b3a0"/>
<text x="1062.00" y="1009.70" font-family="Liberation Serif" font-size="18" font-weight="normal" text-anchor="start" fill="#151515" stroke="#151515" stroke-width="0.4" letter-spacing="0.43">Veillonella</text>
<text x="1219.50" y="1009.70" font-family="Liberation Serif" font-size="15" font-weight="bold" text-anchor="middle" fill="#111" stroke="#111" stroke-width="0.1" >6</text>
<rect x="1039.60" y="1017.84" width="16.00" height="15.00" fill="#ffc0de"/>
<text x="1062.00" y="1032.34" font-family="Liberation Serif" font-size="18" font-weight="normal" text-anchor="start" fill="#151515" stroke="#151515" stroke-width="0.4" letter-spacing="0.43">Enterococcus</text>
<text x="1219.50" y="1032.34" font-family="Liberation Serif" font-size="15" font-weight="bold" text-anchor="middle" fill="#111" stroke="#111" stroke-width="0.1" >7</text>
<rect x="1039.60" y="1040.48" width="16.00" height="15.00" fill="#a94af3"/>
<text x="1062.00" y="1054.98" font-family="Liberation Serif" font-size="18" font-weight="normal" text-anchor="start" fill="#151515" stroke="#151515" stroke-width="0.4" letter-spacing="0.43">Bacteroides</text>
<text x="1219.50" y="1054.98" font-family="Liberation Serif" font-size="15" font-weight="bold" text-anchor="middle" fill="#111" stroke="#111" stroke-width="0.1" >8</text>
<rect x="1039.60" y="1063.12" width="16.00" height="15.00" fill="#4cc634"/>
<text x="1062.00" y="1077.62" font-family="Liberation Serif" font-size="18" font-weight="normal" text-anchor="start" fill="#151515" stroke="#151515" stroke-width="0.4" letter-spacing="0.43">Morganella</text>
<text x="1219.50" y="1077.62" font-family="Liberation Serif" font-size="15" font-weight="bold" text-anchor="middle" fill="#111" stroke="#111" stroke-width="0.1" >9</text>
<rect x="1039.60" y="1085.76" width="16.00" height="15.00" fill="#3e59a8"/>
<text x="1062.00" y="1100.26" font-family="Liberation Serif" font-size="18" font-weight="normal" text-anchor="start" fill="#151515" stroke="#151515" stroke-width="0.4" letter-spacing="0.43">Streptococcus</text>
<text x="1219.50" y="1100.26" font-family="Liberation Serif" font-size="15" font-weight="bold" text-anchor="middle" fill="#111" stroke="#111" stroke-width="0.1" >10</text>
<rect x="1039.60" y="1108.40" width="16.00" height="15.00" fill="#f77bb2"/>
<text x="1062.00" y="1122.90" font-family="Liberation Serif" font-size="18" font-weight="normal" text-anchor="start" fill="#151515" stroke="#151515" stroke-width="0.4" letter-spacing="0.43">Akkermansia</text>
<text x="1219.50" y="1122.90" font-family="Liberation Serif" font-size="15" font-weight="bold" text-anchor="middle" fill="#111" stroke="#111" stroke-width="0.1" >11</text>
<rect x="1039.60" y="1131.04" width="16.00" height="15.00" fill="#d5cd8e"/>
<text x="1062.00" y="1145.54" font-family="Liberation Serif" font-size="18" font-weight="normal" text-anchor="start" fill="#151515" stroke="#151515" stroke-width="0.4" letter-spacing="0.43">Lactobacillus</text>
<text x="1219.50" y="1145.54" font-family="Liberation Serif" font-size="15" font-weight="bold" text-anchor="middle" fill="#111" stroke="#111" stroke-width="0.1" >12</text>
<rect x="1039.60" y="1153.68" width="16.00" height="15.00" fill="#d0883a"/>
<text x="1062.00" y="1168.18" font-family="Liberation Serif" font-size="18" font-weight="normal" text-anchor="start" fill="#151515" stroke="#151515" stroke-width="0.4" letter-spacing="0.43">Prevotella</text>
<text x="1219.50" y="1168.18" font-family="Liberation Serif" font-size="15" font-weight="bold" text-anchor="middle" fill="#111" stroke="#111" stroke-width="0.1" >13</text>
<rect x="1039.60" y="1176.32" width="16.00" height="15.00" fill="#7a2c9c"/>
<text x="1062.00" y="1190.82" font-family="Liberation Serif" font-size="18" font-weight="normal" text-anchor="start" fill="#151515" stroke="#151515" stroke-width="0.4" letter-spacing="0.43">Acinetobacter</text>
<text x="1219.50" y="1190.82" font-family="Liberation Serif" font-size="15" font-weight="bold" text-anchor="middle" fill="#111" stroke="#111" stroke-width="0.1" >14</text>
<rect x="1039.60" y="1198.96" width="16.00" height="15.00" fill="#ece7d3"/>
<text x="1062.00" y="1213.46" font-family="Liberation Serif" font-size="18" font-weight="normal" text-anchor="start" fill="#151515" stroke="#151515" stroke-width="0.4" letter-spacing="0.43">Haemophilus</text>
<text x="1219.50" y="1213.46" font-family="Liberation Serif" font-size="15" font-weight="bold" text-anchor="middle" fill="#111" stroke="#111" stroke-width="0.1" >15</text>
<rect x="1039.60" y="1221.60" width="16.00" height="15.00" fill="#404040"/>
<text x="1062.00" y="1236.10" font-family="Liberation Serif" font-size="18" font-weight="normal" text-anchor="start" fill="#151515" stroke="#151515" stroke-width="0.4" letter-spacing="0.43">Serratia</text>
<text x="1219.50" y="1236.10" font-family="Liberation Serif" font-size="15" font-weight="bold" text-anchor="middle" fill="#111" stroke="#111" stroke-width="0.1" >16</text>
<rect x="153.90" y="1545.90" width="12.40" height="3.00" fill="#000"/>
<rect x="169.20" y="1545.90" width="12.40" height="3.00" fill="#000"/>
<rect x="184.50" y="1545.90" width="12.40" height="3.00" fill="#000"/>
<rect x="199.80" y="1545.90" width="12.40" height="3.00" fill="#000"/>
<rect x="230.40" y="1545.90" width="12.40" height="3.00" fill="#000"/>
<rect x="245.70" y="1545.90" width="12.40" height="3.00" fill="#000"/>
<rect x="261.00" y="1545.90" width="12.40" height="3.00" fill="#000"/>
<rect x="276.30" y="1545.90" width="12.40" height="3.00" fill="#000"/>
<rect x="291.60" y="1545.90" width="12.40" height="3.00" fill="#000"/>
<rect x="306.90" y="1545.90" width="12.40" height="3.00" fill="#000"/>
<rect x="322.20" y="1545.90" width="12.40" height="3.00" fill="#000"/>
<rect x="337.50" y="1545.90" width="12.40" height="3.00" fill="#000"/>
<rect x="352.80" y="1545.90" width="12.40" height="3.00" fill="#000"/>
<rect x="463.40" y="1545.90" width="12.40" height="3.00" fill="#000"/>
<rect x="478.70" y="1545.90" width="12.40" height="3.00" fill="#000"/>
<rect x="494.00" y="1545.90" width="12.40" height="3.00" fill="#000"/>
<rect x="524.60" y="1545.90" width="12.40" height="3.00" fill="#000"/>
<rect x="539.90" y="1545.90" width="12.40" height="3.00" fill="#000"/>
<rect x="555.20" y="1545.90" width="12.40" height="3.00" fill="#000"/>
<rect x="570.50" y="1545.90" width="12.40" height="3.00" fill="#000"/>
<rect x="585.80" y="1545.90" width="12.40" height="3.00" fill="#000"/>
<rect x="601.10" y="1545.90" width="12.40" height="3.00" fill="#000"/>
<rect x="616.40" y="1545.90" width="12.40" height="3.00" fill="#000"/>
<rect x="631.70" y="1545.90" width="12.40" height="3.00" fill="#000"/>
<rect x="647.00" y="1545.90" width="12.40" height="3.00" fill="#000"/>
<rect x="662.30" y="1545.90" width="12.40" height="3.00" fill="#000"/>
<rect x="757.60" y="1545.90" width="12.40" height="3.00" fill="#000"/>
<rect x="772.90" y="1545.90" width="12.40" height="3.00" fill="#000"/>
<rect x="788.20" y="1545.90" width="12.40" height="3.00" fill="#000"/>
<rect x="803.50" y="1545.90" width="12.40" height="3.00" fill="#000"/>
<rect x="818.80" y="1545.90" width="12.40" height="3.00" fill="#000"/>
<rect x="834.10" y="1545.90" width="12.40" height="3.00" fill="#000"/>
<rect x="849.40" y="1545.90" width="12.40" height="3.00" fill="#000"/>
<rect x="864.70" y="1545.90" width="12.40" height="3.00" fill="#000"/>
<rect x="880.00" y="1545.90" width="12.40" height="3.00" fill="#000"/>
<rect x="895.30" y="1545.90" width="12.40" height="3.00" fill="#000"/>
<rect x="910.60" y="1545.90" width="12.40" height="3.00" fill="#000"/>
<rect x="925.90" y="1545.90" width="12.40" height="3.00" fill="#000"/>
<rect x="941.20" y="1545.90" width="12.40" height="3.00" fill="#000"/>
<rect x="956.50" y="1545.90" width="12.40" height="3.00" fill="#000"/>
<rect x="971.80" y="1545.90" width="12.40" height="3.00" fill="#000"/>
<rect x="128.00" y="930.80" width="3.00" height="174.20" fill="#000"/>
<polygon points="125.80,929.40 133.20,929.40 133.20,931.20 131.00,933.40 128.00,933.40 125.80,931.20" fill="#000"/>
<rect x="124.20" y="1105.00" width="10.60" height="365.90" fill="#5294e4"/>
<rect x="122.80" y="1315.15" width="13.40" height="3.30" fill="#000"/>
<rect x="128.00" y="1470.90" width="3.00" height="75.10" fill="#000"/>
<polygon points="125.80,1547.40 133.20,1547.40 133.20,1545.60 131.00,1543.40 128.00,1543.40 125.80,1545.60" fill="#000"/>
<rect x="143.80" y="940.00" width="2.00" height="263.70" fill="#000"/>
<polygon points="141.10,938.60 148.50,938.60 148.50,940.40 145.80,942.60 143.80,942.60 141.10,940.40" fill="#000"/>
<rect x="139.50" y="1203.70" width="10.60" height="342.30" fill="#d6002f"/>
<rect x="138.10" y="1534.95" width="13.40" height="3.30" fill="#000"/>
<circle cx="160.10" cy="925.80" r="4.4" fill="#000"/>
<circle cx="160.10" cy="1048.90" r="4.4" fill="#000"/>
<circle cx="160.10" cy="1485.70" r="4.4" fill="#000"/>
<circle cx="160.10" cy="1517.00" r="4.4" fill="#000"/>
<rect x="158.90" y="1539.40" width="2.40" height="5.20" fill="#000"/>
<polygon points="156.40,1538.00 163.80,1538.00 163.80,1539.80 161.30,1542.00 158.90,1542.00 156.40,1539.80" fill="#000"/>
<rect x="154.80" y="1544.60" width="10.60" height="2.80" fill="#288528"/>
<circle cx="175.40" cy="1167.60" r="4.4" fill="#000"/>
<circle cx="175.40" cy="1171.50" r="4.4" fill="#000"/>
<circle cx="175.40" cy="1347.10" r="4.4" fill="#000"/>
<circle cx="175.40" cy="1378.00" r="4.4" fill="#000"/>
<circle cx="175.40" cy="1443.00" r="4.4" fill="#000"/>
<rect x="174.20" y="1540.50" width="2.40" height="3.50" fill="#000"/>
<polygon points="171.70,1539.10 179.10,1539.10 179.10,1540.90 176.60,1543.10 174.20,1543.10 171.70,1540.90" fill="#000"/>
<rect x="170.10" y="1544.00" width="10.60" height="3.40" fill="#f86428"/>
<circle cx="190.70" cy="1479.50" r="3.8000000000000003" fill="#fff" stroke="#999" stroke-width="1.3"/>
<rect x="189.70" y="1493.70" width="2.00" height="32.60" fill="#000"/>
<polygon points="187.00,1492.30 194.40,1492.30 194.40,1494.10 191.70,1496.30 189.70,1496.30 187.00,1494.10" fill="#000"/>
<rect x="185.40" y="1526.30" width="10.60" height="21.10" fill="#e2d80e"/>
<rect x="184.00" y="1542.95" width="13.40" height="3.30" fill="#000"/>
<circle cx="206.00" cy="1297.40" r="4.4" fill="#000"/>
<circle cx="206.00" cy="1378.00" r="4.4" fill="#000"/>
<circle cx="206.00" cy="1508.10" r="4.4" fill="#000"/>
<circle cx="206.00" cy="1512.00" r="4.4" fill="#000"/>
<circle cx="206.00" cy="1541.00" r="4.4" fill="#000"/>
<circle cx="221.30" cy="1356.70" r="3.8000000000000003" fill="#fff" stroke="#999" stroke-width="1.3"/>
<rect x="220.00" y="1393.90" width="2.60" height="86.80" fill="#000"/>
<polygon points="217.60,1392.50 225.00,1392.50 225.00,1394.30 222.60,1396.50 220.00,1396.50 217.60,1394.30" fill="#000"/>
<rect x="216.00" y="1480.70" width="10.60" height="63.30" fill="#ffc0de"/>
<rect x="214.60" y="1539.95" width="13.40" height="3.30" fill="#000"/>
<circle cx="251.90" cy="922.80" r="4.4" fill="#000"/>
<circle cx="251.90" cy="1511.30" r="4.4" fill="#000"/>
<circle cx="251.90" cy="1528.00" r="4.4" fill="#000"/>
<circle cx="251.90" cy="1547.00" r="4.4" fill="#000"/>
<circle cx="267.20" cy="1524.50" r="4.4" fill="#000"/>
<circle cx="267.20" cy="1537.00" r="4.4" fill="#000"/>
<circle cx="267.20" cy="1540.50" r="4.4" fill="#000"/>
<circle cx="267.20" cy="1546.00" r="4.4" fill="#000"/>
<circle cx="297.80" cy="1506.70" r="4.4" fill="#000"/>
<circle cx="297.80" cy="1518.00" r="4.4" fill="#000"/>
<circle cx="297.80" cy="1525.00" r="4.4" fill="#000"/>
<circle cx="297.80" cy="1532.50" r="3.8000000000000003" fill="#fff" stroke="#999" stroke-width="1.3"/>
<polygon points="294.10,1538.00 301.50,1538.00 301.50,1539.80 299.00,1542.00 296.60,1542.00 294.10,1539.80" fill="#000"/>
<rect x="292.50" y="1545.00" width="10.60" height="2.40" fill="#d5cd8e"/>
<circle cx="313.10" cy="1547.00" r="4.4" fill="#000"/>
<circle cx="328.40" cy="1547.00" r="4.4" fill="#000"/>
<circle cx="359.00" cy="1547.00" r="4.4" fill="#000"/>
<circle cx="343.70" cy="1540.00" r="4.4" fill="#000"/>
<rect x="437.80" y="974.20" width="2.40" height="191.80" fill="#000"/>
<polygon points="435.30,972.80 442.70,972.80 442.70,974.60 440.20,976.80 437.80,976.80 435.30,974.60" fill="#000"/>
<rect x="433.70" y="1166.00" width="10.60" height="312.40" fill="#5294e4"/>
<rect x="432.30" y="1335.15" width="13.40" height="3.30" fill="#000"/>
<rect x="437.70" y="1478.40" width="2.60" height="68.60" fill="#000"/>
<polygon points="435.30,1548.40 442.70,1548.40 442.70,1546.60 440.30,1544.40 437.70,1544.40 435.30,1546.60" fill="#000"/>
<rect x="453.20" y="919.40" width="2.20" height="250.00" fill="#000"/>
<polygon points="450.60,918.00 458.00,918.00 458.00,919.80 455.40,922.00 453.20,922.00 450.60,919.80" fill="#000"/>
<rect x="449.00" y="1169.40" width="10.60" height="378.00" fill="#d6002f"/>
<rect x="447.60" y="1532.65" width="13.40" height="3.30" fill="#000"/>
<circle cx="469.60" cy="1143.60" r="4.4" fill="#000"/>
<circle cx="469.60" cy="1213.90" r="4.4" fill="#000"/>
<circle cx="469.60" cy="1247.00" r="4.4" fill="#000"/>
<circle cx="469.60" cy="1383.00" r="4.4" fill="#000"/>
<circle cx="469.60" cy="1434.30" r="4.4" fill="#000"/>
<circle cx="469.60" cy="1461.00" r="3.8000000000000003" fill="#fff" stroke="#999" stroke-width="1.3"/>
<rect x="468.50" y="1489.80" width="2.20" height="32.90" fill="#000"/>
<polygon points="465.90,1488.40 473.30,1488.40 473.30,1490.20 470.70,1492.40 468.50,1492.40 465.90,1490.20" fill="#000"/>
<rect x="464.30" y="1522.70" width="10.60" height="24.70" fill="#288528"/>
<circle cx="484.90" cy="1038.10" r="4.4" fill="#000"/>
<circle cx="484.90" cy="1076.50" r="4.4" fill="#000"/>
<circle cx="484.90" cy="1252.00" r="4.4" fill="#000"/>
<circle cx="484.90" cy="1255.60" r="4.4" fill="#000"/>
<circle cx="484.90" cy="1321.30" r="4.4" fill="#000"/>
<circle cx="484.90" cy="1390.50" r="4.4" fill="#000"/>
<circle cx="484.90" cy="1503.30" r="3.8000000000000003" fill="#fff" stroke="#999" stroke-width="1.3"/>
<rect x="479.60" y="1534.80" width="10.60" height="12.60" fill="#f86428"/>
<circle cx="500.20" cy="1481.80" r="4.4" fill="#000"/>
<circle cx="500.20" cy="1523.80" r="4.4" fill="#000"/>
<circle cx="500.20" cy="1534.80" r="3.8000000000000003" fill="#fff" stroke="#999" stroke-width="1.3"/>
<rect x="499.00" y="1540.50" width="2.40" height="5.50" fill="#000"/>
<polygon points="496.50,1539.10 503.90,1539.10 503.90,1540.90 501.40,1543.10 499.00,1543.10 496.50,1540.90" fill="#000"/>
<rect x="493.50" y="1544.70" width="13.40" height="3.00" fill="#000"/>
<circle cx="515.50" cy="1346.40" r="4.4" fill="#000"/>
<circle cx="515.50" cy="1433.20" r="4.4" fill="#000"/>
<circle cx="515.50" cy="1448.70" r="4.4" fill="#000"/>
<circle cx="515.50" cy="1479.50" r="3.8000000000000003" fill="#fff" stroke="#999" stroke-width="1.3"/>
<circle cx="515.50" cy="1493.70" r="3.8000000000000003" fill="#fff" stroke="#999" stroke-width="1.3"/>
<circle cx="515.50" cy="1499.40" r="3.8000000000000003" fill="#fff" stroke="#999" stroke-width="1.3"/>
<rect x="514.30" y="1524.00" width="2.40" height="6.20" fill="#000"/>
<polygon points="511.80,1522.60 519.20,1522.60 519.20,1524.40 516.70,1526.60 514.30,1526.60 511.80,1524.40" fill="#000"/>
<rect x="510.20" y="1530.20" width="10.60" height="17.20" fill="#02b3a0"/>
<rect x="508.80" y="1538.85" width="13.40" height="3.30" fill="#000"/>
<circle cx="530.80" cy="1043.20" r="4.4" fill="#000"/>
<circle cx="530.80" cy="1111.20" r="4.4" fill="#000"/>
<circle cx="530.80" cy="1414.50" r="3.8000000000000003" fill="#fff" stroke="#999" stroke-width="1.3"/>
<rect x="529.50" y="1462.20" width="2.60" height="45.20" fill="#000"/>
<polygon points="527.10,1460.80 534.50,1460.80 534.50,1462.60 532.10,1464.80 529.50,1464.80 527.10,1462.60" fill="#000"/>
<rect x="525.50" y="1507.40" width="10.60" height="36.60" fill="#ffc0de"/>
<rect x="524.10" y="1531.35" width="13.40" height="3.30" fill="#000"/>
<circle cx="546.10" cy="1410.40" r="4.4" fill="#000"/>
<circle cx="546.10" cy="1461.70" r="4.4" fill="#000"/>
<circle cx="576.70" cy="1515.40" r="4.4" fill="#000"/>
<circle cx="576.70" cy="1518.80" r="4.4" fill="#000"/>
<circle cx="576.70" cy="1529.50" r="4.4" fill="#000"/>
<circle cx="576.70" cy="1547.00" r="4.4" fill="#000"/>
<circle cx="576.70" cy="1537.80" r="3.8000000000000003" fill="#fff" stroke="#999" stroke-width="1.3"/>
<circle cx="607.30" cy="1526.80" r="4.4" fill="#000"/>
<circle cx="607.30" cy="1531.00" r="4.4" fill="#000"/>
<circle cx="607.30" cy="1542.30" r="4.4" fill="#000"/>
<circle cx="607.30" cy="1547.00" r="4.4" fill="#000"/>
<circle cx="637.90" cy="1547.00" r="4.4" fill="#000"/>
<circle cx="668.50" cy="1547.00" r="4.4" fill="#000"/>
<circle cx="653.20" cy="1357.90" r="4.4" fill="#000"/>
<rect x="747.40" y="931.50" width="2.20" height="33.10" fill="#000"/>
<polygon points="744.80,930.10 752.20,930.10 752.20,931.90 749.60,934.10 747.40,934.10 744.80,931.90" fill="#000"/>
<rect x="743.20" y="964.60" width="10.60" height="225.80" fill="#5294e4"/>
<rect x="741.80" y="1079.85" width="13.40" height="3.30" fill="#000"/>
<rect x="747.40" y="1190.40" width="2.20" height="189.80" fill="#000"/>
<polygon points="744.80,1381.60 752.20,1381.60 752.20,1379.80 749.60,1377.60 747.40,1377.60 744.80,1379.80" fill="#000"/>
<circle cx="748.50" cy="1547.40" r="3.8000000000000003" fill="#fff" stroke="#999" stroke-width="1.3"/>
<rect x="762.50" y="1411.00" width="2.60" height="59.90" fill="#000"/>
<polygon points="760.10,1409.60 767.50,1409.60 767.50,1411.40 765.10,1413.60 762.50,1413.60 760.10,1411.40" fill="#000"/>
<rect x="758.50" y="1470.90" width="10.60" height="76.50" fill="#d6002f"/>
<circle cx="779.10" cy="1501.20" r="4.4" fill="#000"/>
<rect x="777.90" y="1534.80" width="2.40" height="8.00" fill="#000"/>
<polygon points="775.40,1533.40 782.80,1533.40 782.80,1535.20 780.30,1537.40 777.90,1537.40 775.40,1535.20" fill="#000"/>
<rect x="773.80" y="1542.80" width="10.60" height="4.60" fill="#288528"/>
<circle cx="794.40" cy="1546.00" r="4.4" fill="#000"/>
<circle cx="809.70" cy="1546.00" r="4.4" fill="#000"/>
<circle cx="840.30" cy="1546.00" r="4.4" fill="#000"/>
<circle cx="825.00" cy="1173.30" r="4.4" fill="#000"/>
<circle cx="825.00" cy="1322.50" r="4.4" fill="#000"/>
<rect x="819.70" y="1516.50" width="10.60" height="29.50" fill="#02b3a0"/>
<rect x="818.30" y="1537.75" width="13.40" height="3.30" fill="#000"/>
<circle cx="855.60" cy="1390.30" r="4.4" fill="#000"/>
<rect x="854.30" y="1481.10" width="2.60" height="38.40" fill="#000"/>
<polygon points="851.90,1479.70 859.30,1479.70 859.30,1481.50 856.90,1483.70 854.30,1483.70 851.90,1481.50" fill="#000"/>
<rect x="850.30" y="1519.50" width="10.60" height="27.90" fill="#a94af3"/>
<circle cx="886.20" cy="1344.60" r="4.4" fill="#000"/>
<polygon points="882.50,1535.60 889.90,1535.60 889.90,1537.40 887.40,1539.60 885.00,1539.60 882.50,1537.40" fill="#000"/>
<rect x="880.90" y="1539.40" width="10.60" height="8.00" fill="#3e59a8"/>
<rect x="915.60" y="1538.20" width="2.40" height="7.80" fill="#000"/>
<polygon points="913.10,1536.80 920.50,1536.80 920.50,1538.60 918.00,1540.80 915.60,1540.80 913.10,1538.60" fill="#000"/>
<circle cx="962.70" cy="1469.30" r="4.4" fill="#000"/>
<rect x="957.40" y="1541.60" width="10.60" height="5.80" fill="#ece7d3"/>
<text transform="translate(127.40 1561.80) scale(0.9 1.04)" x="0" y="0" font-family="Liberation Serif" font-size="12.5" font-weight="bold" text-anchor="middle" fill="#000" stroke="#000" stroke-width="0.3">1</text>
<text transform="translate(143.00 1561.80) scale(0.9 1.04)" x="0" y="0" font-family="Liberation Serif" font-size="12.5" font-weight="bold" text-anchor="middle" fill="#000" stroke="#000" stroke-width="0.3">2</text>
<text transform="translate(158.60 1561.80) scale(0.9 1.04)" x="0" y="0" font-family="Liberation Serif" font-size="12.5" font-weight="bold" text-anchor="middle" fill="#000" stroke="#000" stroke-width="0.3">3</text>
<text transform="translate(174.20 1561.80) scale(0.9 1.04)" x="0" y="0" font-family="Liberation Serif" font-size="12.5" font-weight="bold" text-anchor="middle" fill="#000" stroke="#000" stroke-width="0.3">4</text>
<text transform="translate(189.80 1561.80) scale(0.9 1.04)" x="0" y="0" font-family="Liberation Serif" font-size="12.5" font-weight="bold" text-anchor="middle" fill="#000" stroke="#000" stroke-width="0.3">5</text>
<text transform="translate(205.40 1561.80) scale(0.9 1.04)" x="0" y="0" font-family="Liberation Serif" font-size="12.5" font-weight="bold" text-anchor="middle" fill="#000" stroke="#000" stroke-width="0.3">6</text>
<text transform="translate(221.00 1561.80) scale(0.9 1.04)" x="0" y="0" font-family="Liberation Serif" font-size="12.5" font-weight="bold" text-anchor="middle" fill="#000" stroke="#000" stroke-width="0.3">7</text>
<text transform="translate(236.60 1561.80) scale(0.9 1.04)" x="0" y="0" font-family="Liberation Serif" font-size="12.5" font-weight="bold" text-anchor="middle" fill="#000" stroke="#000" stroke-width="0.3">8</text>
<text transform="translate(252.20 1561.80) scale(0.9 1.04)" x="0" y="0" font-family="Liberation Serif" font-size="12.5" font-weight="bold" text-anchor="middle" fill="#000" stroke="#000" stroke-width="0.3">9</text>
<text transform="translate(267.80 1561.80) scale(0.9 1.04)" x="0" y="0" font-family="Liberation Serif" font-size="12.5" font-weight="bold" text-anchor="middle" fill="#000" stroke="#000" stroke-width="0.3">10</text>
<text transform="translate(283.40 1561.80) scale(0.9 1.04)" x="0" y="0" font-family="Liberation Serif" font-size="12.5" font-weight="bold" text-anchor="middle" fill="#000" stroke="#000" stroke-width="0.3">11</text>
<text transform="translate(299.00 1561.80) scale(0.9 1.04)" x="0" y="0" font-family="Liberation Serif" font-size="12.5" font-weight="bold" text-anchor="middle" fill="#000" stroke="#000" stroke-width="0.3">12</text>
<text transform="translate(314.60 1561.80) scale(0.9 1.04)" x="0" y="0" font-family="Liberation Serif" font-size="12.5" font-weight="bold" text-anchor="middle" fill="#000" stroke="#000" stroke-width="0.3">13</text>
<text transform="translate(330.20 1561.80) scale(0.9 1.04)" x="0" y="0" font-family="Liberation Serif" font-size="12.5" font-weight="bold" text-anchor="middle" fill="#000" stroke="#000" stroke-width="0.3">14</text>
<text transform="translate(345.80 1561.80) scale(0.9 1.04)" x="0" y="0" font-family="Liberation Serif" font-size="12.5" font-weight="bold" text-anchor="middle" fill="#000" stroke="#000" stroke-width="0.3">15</text>
<text transform="translate(361.40 1561.80) scale(0.9 1.04)" x="0" y="0" font-family="Liberation Serif" font-size="12.5" font-weight="bold" text-anchor="middle" fill="#000" stroke="#000" stroke-width="0.3">16</text>
<text transform="translate(438.50 1561.80) scale(0.9 1.04)" x="0" y="0" font-family="Liberation Serif" font-size="12.5" font-weight="bold" text-anchor="middle" fill="#000" stroke="#000" stroke-width="0.3">1</text>
<text transform="translate(454.10 1561.80) scale(0.9 1.04)" x="0" y="0" font-family="Liberation Serif" font-size="12.5" font-weight="bold" text-anchor="middle" fill="#000" stroke="#000" stroke-width="0.3">2</text>
<text transform="translate(469.70 1561.80) scale(0.9 1.04)" x="0" y="0" font-family="Liberation Serif" font-size="12.5" font-weight="bold" text-anchor="middle" fill="#000" stroke="#000" stroke-width="0.3">3</text>
<text transform="translate(485.30 1561.80) scale(0.9 1.04)" x="0" y="0" font-family="Liberation Serif" font-size="12.5" font-weight="bold" text-anchor="middle" fill="#000" stroke="#000" stroke-width="0.3">4</text>
<text transform="translate(500.90 1561.80) scale(0.9 1.04)" x="0" y="0" font-family="Liberation Serif" font-size="12.5" font-weight="bold" text-anchor="middle" fill="#000" stroke="#000" stroke-width="0.3">5</text>
<text transform="translate(516.50 1561.80) scale(0.9 1.04)" x="0" y="0" font-family="Liberation Serif" font-size="12.5" font-weight="bold" text-anchor="middle" fill="#000" stroke="#000" stroke-width="0.3">6</text>
<text transform="translate(532.10 1561.80) scale(0.9 1.04)" x="0" y="0" font-family="Liberation Serif" font-size="12.5" font-weight="bold" text-anchor="middle" fill="#000" stroke="#000" stroke-width="0.3">7</text>
<text transform="translate(547.70 1561.80) scale(0.9 1.04)" x="0" y="0" font-family="Liberation Serif" font-size="12.5" font-weight="bold" text-anchor="middle" fill="#000" stroke="#000" stroke-width="0.3">8</text>
<text transform="translate(563.30 1561.80) scale(0.9 1.04)" x="0" y="0" font-family="Liberation Serif" font-size="12.5" font-weight="bold" text-anchor="middle" fill="#000" stroke="#000" stroke-width="0.3">9</text>
<text transform="translate(578.90 1561.80) scale(0.9 1.04)" x="0" y="0" font-family="Liberation Serif" font-size="12.5" font-weight="bold" text-anchor="middle" fill="#000" stroke="#000" stroke-width="0.3">10</text>
<text transform="translate(594.50 1561.80) scale(0.9 1.04)" x="0" y="0" font-family="Liberation Serif" font-size="12.5" font-weight="bold" text-anchor="middle" fill="#000" stroke="#000" stroke-width="0.3">11</text>
<text transform="translate(610.10 1561.80) scale(0.9 1.04)" x="0" y="0" font-family="Liberation Serif" font-size="12.5" font-weight="bold" text-anchor="middle" fill="#000" stroke="#000" stroke-width="0.3">12</text>
<text transform="translate(625.70 1561.80) scale(0.9 1.04)" x="0" y="0" font-family="Liberation Serif" font-size="12.5" font-weight="bold" text-anchor="middle" fill="#000" stroke="#000" stroke-width="0.3">13</text>
<text transform="translate(641.30 1561.80) scale(0.9 1.04)" x="0" y="0" font-family="Liberation Serif" font-size="12.5" font-weight="bold" text-anchor="middle" fill="#000" stroke="#000" stroke-width="0.3">14</text>
<text transform="translate(656.90 1561.80) scale(0.9 1.04)" x="0" y="0" font-family="Liberation Serif" font-size="12.5" font-weight="bold" text-anchor="middle" fill="#000" stroke="#000" stroke-width="0.3">15</text>
<text transform="translate(672.50 1561.80) scale(0.9 1.04)" x="0" y="0" font-family="Liberation Serif" font-size="12.5" font-weight="bold" text-anchor="middle" fill="#000" stroke="#000" stroke-width="0.3">16</text>
<text transform="translate(748.50 1561.80) scale(0.9 1.04)" x="0" y="0" font-family="Liberation Serif" font-size="12.5" font-weight="bold" text-anchor="middle" fill="#000" stroke="#000" stroke-width="0.3">1</text>
<text transform="translate(764.10 1561.80) scale(0.9 1.04)" x="0" y="0" font-family="Liberation Serif" font-size="12.5" font-weight="bold" text-anchor="middle" fill="#000" stroke="#000" stroke-width="0.3">2</text>
<text transform="translate(779.70 1561.80) scale(0.9 1.04)" x="0" y="0" font-family="Liberation Serif" font-size="12.5" font-weight="bold" text-anchor="middle" fill="#000" stroke="#000" stroke-width="0.3">3</text>
<text transform="translate(795.30 1561.80) scale(0.9 1.04)" x="0" y="0" font-family="Liberation Serif" font-size="12.5" font-weight="bold" text-anchor="middle" fill="#000" stroke="#000" stroke-width="0.3">4</text>
<text transform="translate(810.90 1561.80) scale(0.9 1.04)" x="0" y="0" font-family="Liberation Serif" font-size="12.5" font-weight="bold" text-anchor="middle" fill="#000" stroke="#000" stroke-width="0.3">5</text>
<text transform="translate(826.50 1561.80) scale(0.9 1.04)" x="0" y="0" font-family="Liberation Serif" font-size="12.5" font-weight="bold" text-anchor="middle" fill="#000" stroke="#000" stroke-width="0.3">6</text>
<text transform="translate(842.10 1561.80) scale(0.9 1.04)" x="0" y="0" font-family="Liberation Serif" font-size="12.5" font-weight="bold" text-anchor="middle" fill="#000" stroke="#000" stroke-width="0.3">7</text>
<text transform="translate(857.70 1561.80) scale(0.9 1.04)" x="0" y="0" font-family="Liberation Serif" font-size="12.5" font-weight="bold" text-anchor="middle" fill="#000" stroke="#000" stroke-width="0.3">8</text>
<text transform="translate(873.30 1561.80) scale(0.9 1.04)" x="0" y="0" font-family="Liberation Serif" font-size="12.5" font-weight="bold" text-anchor="middle" fill="#000" stroke="#000" stroke-width="0.3">9</text>
<text transform="translate(888.90 1561.80) scale(0.9 1.04)" x="0" y="0" font-family="Liberation Serif" font-size="12.5" font-weight="bold" text-anchor="middle" fill="#000" stroke="#000" stroke-width="0.3">10</text>
<text transform="translate(904.50 1561.80) scale(0.9 1.04)" x="0" y="0" font-family="Liberation Serif" font-size="12.5" font-weight="bold" text-anchor="middle" fill="#000" stroke="#000" stroke-width="0.3">11</text>
<text transform="translate(920.10 1561.80) scale(0.9 1.04)" x="0" y="0" font-family="Liberation Serif" font-size="12.5" font-weight="bold" text-anchor="middle" fill="#000" stroke="#000" stroke-width="0.3">12</text>
<text transform="translate(935.70 1561.80) scale(0.9 1.04)" x="0" y="0" font-family="Liberation Serif" font-size="12.5" font-weight="bold" text-anchor="middle" fill="#000" stroke="#000" stroke-width="0.3">13</text>
<text transform="translate(951.30 1561.80) scale(0.9 1.04)" x="0" y="0" font-family="Liberation Serif" font-size="12.5" font-weight="bold" text-anchor="middle" fill="#000" stroke="#000" stroke-width="0.3">14</text>
<text transform="translate(966.90 1561.80) scale(0.9 1.04)" x="0" y="0" font-family="Liberation Serif" font-size="12.5" font-weight="bold" text-anchor="middle" fill="#000" stroke="#000" stroke-width="0.3">15</text>
<text transform="translate(982.50 1561.80) scale(0.9 1.04)" x="0" y="0" font-family="Liberation Serif" font-size="12.5" font-weight="bold" text-anchor="middle" fill="#000" stroke="#000" stroke-width="0.3">16</text>
<text x="8.20" y="1694.60" font-family="Liberation Sans" font-size="22.5" font-weight="bold" text-anchor="start" fill="#000" stroke="#000" stroke-width="0.45" >C</text>
<text x="731.80" y="1701.40" font-family="Liberation Serif" font-size="32" font-weight="bold" text-anchor="middle" fill="#000" stroke="#000" stroke-width="0.1" letter-spacing="0.87">4 months of age</text>
<line x1="81.3" y1="1723.3" x2="81.3" y2="2466" stroke="#7a7a7a" stroke-width="2.0"/>
<line x1="80.3" y1="2466" x2="1101.6" y2="2466" stroke="#7a7a7a" stroke-width="2.0"/>
<line x1="75" y1="1760" x2="87.3" y2="1760" stroke="#999" stroke-width="1.4"/>
<text x="67.20" y="1765.95" font-family="Liberation Serif" font-size="17.5" font-weight="normal" text-anchor="end" fill="#2a2a2a" stroke="#2a2a2a" stroke-width="0.35" >100</text>
<line x1="75" y1="1893.8" x2="87.3" y2="1893.8" stroke="#999" stroke-width="1.4"/>
<text x="67.20" y="1899.75" font-family="Liberation Serif" font-size="17.5" font-weight="normal" text-anchor="end" fill="#2a2a2a" stroke="#2a2a2a" stroke-width="0.35" >80</text>
<line x1="75" y1="2027.6" x2="87.3" y2="2027.6" stroke="#999" stroke-width="1.4"/>
<text x="67.20" y="2033.55" font-family="Liberation Serif" font-size="17.5" font-weight="normal" text-anchor="end" fill="#2a2a2a" stroke="#2a2a2a" stroke-width="0.35" >60</text>
<line x1="75" y1="2161.3" x2="87.3" y2="2161.3" stroke="#999" stroke-width="1.4"/>
<text x="67.20" y="2167.25" font-family="Liberation Serif" font-size="17.5" font-weight="normal" text-anchor="end" fill="#2a2a2a" stroke="#2a2a2a" stroke-width="0.35" >40</text>
<line x1="75" y1="2295.1" x2="87.3" y2="2295.1" stroke="#999" stroke-width="1.4"/>
<text x="67.20" y="2301.05" font-family="Liberation Serif" font-size="17.5" font-weight="normal" text-anchor="end" fill="#2a2a2a" stroke="#2a2a2a" stroke-width="0.35" >20</text>
<line x1="75" y1="2428.9" x2="87.3" y2="2428.9" stroke="#999" stroke-width="1.4"/>
<text x="67.20" y="2434.85" font-family="Liberation Serif" font-size="17.5" font-weight="normal" text-anchor="end" fill="#2a2a2a" stroke="#2a2a2a" stroke-width="0.35" >0</text>
<text x="24.00" y="2094.40" font-family="Liberation Serif" font-size="22.8" font-weight="bold" text-anchor="middle" fill="#000" stroke="#000" stroke-width="0.45" transform="rotate(-90 24 2094.4)">Relative abundance (%)</text>
<text x="118.30" y="2492.70" font-family="Liberation Serif" font-size="17.6" font-weight="bold" text-anchor="start" fill="#000" stroke="#000" stroke-width="0.3" letter-spacing="0.75">Probiotic extremely preterm (PEP)</text>
<text x="442.30" y="2492.00" font-family="Liberation Serif" font-size="17.6" font-weight="bold" text-anchor="start" fill="#000" stroke="#000" stroke-width="0.3" letter-spacing="0.75">Non-probiotic very preterm (NPVP)</text>
<text x="822.50" y="2491.10" font-family="Liberation Serif" font-size="17.6" font-weight="bold" text-anchor="start" fill="#000" stroke="#000" stroke-width="0.3" letter-spacing="0.75">Full term control (FTC)</text>
<rect x="1107.00" y="1721.10" width="18.00" height="16.00" fill="#5294e4"/>
<text x="1131.00" y="1736.40" font-family="Liberation Serif" font-size="19" font-weight="normal" text-anchor="start" fill="#151515" stroke="#151515" stroke-width="0.4" letter-spacing="0.45">Bifidobacterium</text>
<text x="1298.00" y="1736.40" font-family="Liberation Serif" font-size="16" font-weight="bold" text-anchor="middle" fill="#111" stroke="#111" stroke-width="0.1" >1</text>
<rect x="1107.00" y="1745.23" width="18.00" height="16.00" fill="#d6002f"/>
<text x="1131.00" y="1760.53" font-family="Liberation Serif" font-size="19" font-weight="normal" text-anchor="start" fill="#151515" stroke="#151515" stroke-width="0.4" letter-spacing="0.45">Escherichia</text>
<text x="1298.00" y="1760.53" font-family="Liberation Serif" font-size="16" font-weight="bold" text-anchor="middle" fill="#111" stroke="#111" stroke-width="0.1" >2</text>
<rect x="1107.00" y="1769.36" width="18.00" height="16.00" fill="#288528"/>
<text x="1131.00" y="1784.66" font-family="Liberation Serif" font-size="19" font-weight="normal" text-anchor="start" fill="#151515" stroke="#151515" stroke-width="0.4" letter-spacing="0.45">Klebsiella</text>
<text x="1298.00" y="1784.66" font-family="Liberation Serif" font-size="16" font-weight="bold" text-anchor="middle" fill="#111" stroke="#111" stroke-width="0.1" >3</text>
<rect x="1107.00" y="1793.49" width="18.00" height="16.00" fill="#f86428"/>
<text x="1131.00" y="1808.79" font-family="Liberation Serif" font-size="19" font-weight="normal" text-anchor="start" fill="#151515" stroke="#151515" stroke-width="0.4" letter-spacing="0.45">Enterobacter</text>
<text x="1298.00" y="1808.79" font-family="Liberation Serif" font-size="16" font-weight="bold" text-anchor="middle" fill="#111" stroke="#111" stroke-width="0.1" >4</text>
<rect x="1107.00" y="1817.62" width="18.00" height="16.00" fill="#e2d80e"/>
<text x="1131.00" y="1832.92" font-family="Liberation Serif" font-size="19" font-weight="normal" text-anchor="start" fill="#151515" stroke="#151515" stroke-width="0.4" letter-spacing="0.45">Staphylococcus</text>
<text x="1298.00" y="1832.92" font-family="Liberation Serif" font-size="16" font-weight="bold" text-anchor="middle" fill="#111" stroke="#111" stroke-width="0.1" >5</text>
<rect x="1107.00" y="1841.75" width="18.00" height="16.00" fill="#02b3a0"/>
<text x="1131.00" y="1857.05" font-family="Liberation Serif" font-size="19" font-weight="normal" text-anchor="start" fill="#151515" stroke="#151515" stroke-width="0.4" letter-spacing="0.45">Veillonella</text>
<text x="1298.00" y="1857.05" font-family="Liberation Serif" font-size="16" font-weight="bold" text-anchor="middle" fill="#111" stroke="#111" stroke-width="0.1" >6</text>
<rect x="1107.00" y="1865.88" width="18.00" height="16.00" fill="#ffc0de"/>
<text x="1131.00" y="1881.18" font-family="Liberation Serif" font-size="19" font-weight="normal" text-anchor="start" fill="#151515" stroke="#151515" stroke-width="0.4" letter-spacing="0.45">Enterococcus</text>
<text x="1298.00" y="1881.18" font-family="Liberation Serif" font-size="16" font-weight="bold" text-anchor="middle" fill="#111" stroke="#111" stroke-width="0.1" >7</text>
<rect x="1107.00" y="1890.01" width="18.00" height="16.00" fill="#a94af3"/>
<text x="1131.00" y="1905.31" font-family="Liberation Serif" font-size="19" font-weight="normal" text-anchor="start" fill="#151515" stroke="#151515" stroke-width="0.4" letter-spacing="0.45">Bacteroides</text>
<text x="1298.00" y="1905.31" font-family="Liberation Serif" font-size="16" font-weight="bold" text-anchor="middle" fill="#111" stroke="#111" stroke-width="0.1" >8</text>
<rect x="1107.00" y="1914.14" width="18.00" height="16.00" fill="#4cc634"/>
<text x="1131.00" y="1929.44" font-family="Liberation Serif" font-size="19" font-weight="normal" text-anchor="start" fill="#151515" stroke="#151515" stroke-width="0.4" letter-spacing="0.45">Morganella</text>
<text x="1298.00" y="1929.44" font-family="Liberation Serif" font-size="16" font-weight="bold" text-anchor="middle" fill="#111" stroke="#111" stroke-width="0.1" >9</text>
<rect x="1107.00" y="1938.27" width="18.00" height="16.00" fill="#3e59a8"/>
<text x="1131.00" y="1953.57" font-family="Liberation Serif" font-size="19" font-weight="normal" text-anchor="start" fill="#151515" stroke="#151515" stroke-width="0.4" letter-spacing="0.45">Streptococcus</text>
<text x="1298.00" y="1953.57" font-family="Liberation Serif" font-size="16" font-weight="bold" text-anchor="middle" fill="#111" stroke="#111" stroke-width="0.1" >10</text>
<rect x="1107.00" y="1962.40" width="18.00" height="16.00" fill="#f77bb2"/>
<text x="1131.00" y="1977.70" font-family="Liberation Serif" font-size="19" font-weight="normal" text-anchor="start" fill="#151515" stroke="#151515" stroke-width="0.4" letter-spacing="0.45">Akkermansia</text>
<text x="1298.00" y="1977.70" font-family="Liberation Serif" font-size="16" font-weight="bold" text-anchor="middle" fill="#111" stroke="#111" stroke-width="0.1" >11</text>
<rect x="1107.00" y="1986.53" width="18.00" height="16.00" fill="#d5cd8e"/>
<text x="1131.00" y="2001.83" font-family="Liberation Serif" font-size="19" font-weight="normal" text-anchor="start" fill="#151515" stroke="#151515" stroke-width="0.4" letter-spacing="0.45">Lactobacillus</text>
<text x="1298.00" y="2001.83" font-family="Liberation Serif" font-size="16" font-weight="bold" text-anchor="middle" fill="#111" stroke="#111" stroke-width="0.1" >12</text>
<rect x="1107.00" y="2010.66" width="18.00" height="16.00" fill="#d0883a"/>
<text x="1131.00" y="2025.96" font-family="Liberation Serif" font-size="19" font-weight="normal" text-anchor="start" fill="#151515" stroke="#151515" stroke-width="0.4" letter-spacing="0.45">Prevotella</text>
<text x="1298.00" y="2025.96" font-family="Liberation Serif" font-size="16" font-weight="bold" text-anchor="middle" fill="#111" stroke="#111" stroke-width="0.1" >13</text>
<rect x="1107.00" y="2034.79" width="18.00" height="16.00" fill="#7a2c9c"/>
<text x="1131.00" y="2050.09" font-family="Liberation Serif" font-size="19" font-weight="normal" text-anchor="start" fill="#151515" stroke="#151515" stroke-width="0.4" letter-spacing="0.45">Acinetobacter</text>
<text x="1298.00" y="2050.09" font-family="Liberation Serif" font-size="16" font-weight="bold" text-anchor="middle" fill="#111" stroke="#111" stroke-width="0.1" >14</text>
<rect x="1107.00" y="2058.92" width="18.00" height="16.00" fill="#ece7d3"/>
<text x="1131.00" y="2074.22" font-family="Liberation Serif" font-size="19" font-weight="normal" text-anchor="start" fill="#151515" stroke="#151515" stroke-width="0.4" letter-spacing="0.45">Haemophilus</text>
<text x="1298.00" y="2074.22" font-family="Liberation Serif" font-size="16" font-weight="bold" text-anchor="middle" fill="#111" stroke="#111" stroke-width="0.1" >15</text>
<rect x="1107.00" y="2083.05" width="18.00" height="16.00" fill="#404040"/>
<text x="1131.00" y="2098.35" font-family="Liberation Serif" font-size="19" font-weight="normal" text-anchor="start" fill="#151515" stroke="#151515" stroke-width="0.4" letter-spacing="0.45">Serratia</text>
<text x="1298.00" y="2098.35" font-family="Liberation Serif" font-size="16" font-weight="bold" text-anchor="middle" fill="#111" stroke="#111" stroke-width="0.1" >16</text>
<rect x="166.16" y="2427.40" width="13.00" height="3.00" fill="#000"/>
<rect x="182.49" y="2427.40" width="13.00" height="3.00" fill="#000"/>
<rect x="198.82" y="2427.40" width="13.00" height="3.00" fill="#000"/>
<rect x="247.81" y="2427.40" width="13.00" height="3.00" fill="#000"/>
<rect x="264.14" y="2427.40" width="13.00" height="3.00" fill="#000"/>
<rect x="280.47" y="2427.40" width="13.00" height="3.00" fill="#000"/>
<rect x="296.80" y="2427.40" width="13.00" height="3.00" fill="#000"/>
<rect x="313.13" y="2427.40" width="13.00" height="3.00" fill="#000"/>
<rect x="329.46" y="2427.40" width="13.00" height="3.00" fill="#000"/>
<rect x="345.79" y="2427.40" width="13.00" height="3.00" fill="#000"/>
<rect x="362.12" y="2427.40" width="13.00" height="3.00" fill="#000"/>
<rect x="378.45" y="2427.40" width="13.00" height="3.00" fill="#000"/>
<rect x="495.36" y="2427.40" width="13.00" height="3.00" fill="#000"/>
<rect x="511.69" y="2427.40" width="13.00" height="3.00" fill="#000"/>
<rect x="528.02" y="2427.40" width="13.00" height="3.00" fill="#000"/>
<rect x="560.68" y="2427.40" width="13.00" height="3.00" fill="#000"/>
<rect x="577.01" y="2427.40" width="13.00" height="3.00" fill="#000"/>
<rect x="593.34" y="2427.40" width="13.00" height="3.00" fill="#000"/>
<rect x="609.67" y="2427.40" width="13.00" height="3.00" fill="#000"/>
<rect x="626.00" y="2427.40" width="13.00" height="3.00" fill="#000"/>
<rect x="642.33" y="2427.40" width="13.00" height="3.00" fill="#000"/>
<rect x="658.66" y="2427.40" width="13.00" height="3.00" fill="#000"/>
<rect x="674.99" y="2427.40" width="13.00" height="3.00" fill="#000"/>
<rect x="691.32" y="2427.40" width="13.00" height="3.00" fill="#000"/>
<rect x="707.65" y="2427.40" width="13.00" height="3.00" fill="#000"/>
<rect x="824.66" y="2427.40" width="13.00" height="3.00" fill="#000"/>
<rect x="840.99" y="2427.40" width="13.00" height="3.00" fill="#000"/>
<rect x="857.32" y="2427.40" width="13.00" height="3.00" fill="#000"/>
<rect x="906.31" y="2427.40" width="13.00" height="3.00" fill="#000"/>
<rect x="922.64" y="2427.40" width="13.00" height="3.00" fill="#000"/>
<rect x="938.97" y="2427.40" width="13.00" height="3.00" fill="#000"/>
<rect x="955.30" y="2427.40" width="13.00" height="3.00" fill="#000"/>
<rect x="987.96" y="2427.40" width="13.00" height="3.00" fill="#000"/>
<rect x="1004.29" y="2427.40" width="13.00" height="3.00" fill="#000"/>
<rect x="1020.62" y="2427.40" width="13.00" height="3.00" fill="#000"/>
<rect x="1036.95" y="2427.40" width="13.00" height="3.00" fill="#000"/>
<rect x="138.70" y="1865.10" width="2.60" height="105.50" fill="#000"/>
<polygon points="136.30,1863.70 143.70,1863.70 143.70,1865.50 141.30,1867.70 138.70,1867.70 136.30,1865.50" fill="#000"/>
<rect x="134.40" y="1970.60" width="11.20" height="345.90" fill="#5294e4"/>
<rect x="132.80" y="2171.10" width="14.40" height="3.60" fill="#000"/>
<rect x="138.40" y="2316.50" width="3.20" height="112.40" fill="#000"/>
<polygon points="136.30,2430.30 143.70,2430.30 143.70,2428.50 141.60,2426.30 138.40,2426.30 136.30,2428.50" fill="#000"/>
<rect x="155.23" y="2208.30" width="2.20" height="73.00" fill="#000"/>
<polygon points="152.63,2206.90 160.03,2206.90 160.03,2208.70 157.43,2210.90 155.23,2210.90 152.63,2208.70" fill="#000"/>
<rect x="150.73" y="2281.30" width="11.20" height="126.40" fill="#d6002f"/>
<rect x="149.13" y="2345.90" width="14.40" height="3.60" fill="#000"/>
<rect x="155.33" y="2407.70" width="2.00" height="21.20" fill="#000"/>
<polygon points="152.63,2430.30 160.03,2430.30 160.03,2428.50 157.33,2426.30 155.33,2426.30 152.63,2428.50" fill="#000"/>
<circle cx="156.33" cy="1779.50" r="4.1" fill="#000"/>
<circle cx="156.33" cy="1887.30" r="4.1" fill="#000"/>
<circle cx="172.66" cy="2234.70" r="4.1" fill="#000"/>
<circle cx="172.66" cy="2369.00" r="4.1" fill="#000"/>
<rect x="171.46" y="2406.00" width="2.40" height="11.30" fill="#000"/>
<polygon points="168.96,2404.60 176.36,2404.60 176.36,2406.40 173.86,2408.60 171.46,2408.60 168.96,2406.40" fill="#000"/>
<rect x="167.06" y="2417.30" width="11.20" height="11.00" fill="#288528"/>
<rect x="165.46" y="2424.90" width="14.40" height="3.60" fill="#000"/>
<circle cx="188.99" cy="2421.70" r="4.1" fill="#000"/>
<circle cx="188.99" cy="2428.90" r="4.1" fill="#000"/>
<circle cx="205.32" cy="2428.90" r="4.1" fill="#000"/>
<rect x="220.35" y="2305.70" width="2.60" height="47.60" fill="#000"/>
<polygon points="217.95,2304.30 225.35,2304.30 225.35,2306.10 222.95,2308.30 220.35,2308.30 217.95,2306.10" fill="#000"/>
<rect x="216.05" y="2353.30" width="11.20" height="66.70" fill="#02b3a0"/>
<rect x="214.45" y="2395.50" width="14.40" height="3.60" fill="#000"/>
<rect x="220.45" y="2420.00" width="2.40" height="8.90" fill="#000"/>
<polygon points="217.95,2430.30 225.35,2430.30 225.35,2428.50 222.85,2426.30 220.45,2426.30 217.95,2428.50" fill="#000"/>
<rect x="236.78" y="2414.00" width="2.40" height="6.00" fill="#000"/>
<polygon points="234.28,2412.60 241.68,2412.60 241.68,2414.40 239.18,2416.60 236.78,2416.60 234.28,2414.40" fill="#000"/>
<rect x="232.38" y="2420.00" width="11.20" height="7.00" fill="#ffc0de"/>
<rect x="230.78" y="2424.20" width="14.40" height="3.60" fill="#000"/>
<circle cx="254.31" cy="1889.50" r="4.1" fill="#000"/>
<circle cx="254.31" cy="2087.30" r="4.1" fill="#000"/>
<circle cx="254.31" cy="2146.20" r="4.1" fill="#000"/>
<circle cx="254.31" cy="2384.00" r="4.1" fill="#000"/>
<circle cx="270.64" cy="2409.00" r="4.1" fill="#000"/>
<circle cx="270.64" cy="2426.00" r="4.1" fill="#000"/>
<circle cx="286.97" cy="2408.30" r="4.1" fill="#000"/>
<circle cx="286.97" cy="2413.30" r="4.1" fill="#000"/>
<circle cx="286.97" cy="2426.70" r="4.1" fill="#000"/>
<circle cx="303.30" cy="2313.50" r="4.1" fill="#000"/>
<circle cx="303.30" cy="2383.30" r="4.1" fill="#000"/>
<circle cx="303.30" cy="2419.00" r="4.1" fill="#000"/>
<circle cx="319.63" cy="2384.00" r="4.1" fill="#000"/>
<rect x="318.43" y="2413.30" width="2.40" height="7.70" fill="#000"/>
<polygon points="315.93,2411.90 323.33,2411.90 323.33,2413.70 320.83,2415.90 318.43,2415.90 315.93,2413.70" fill="#000"/>
<rect x="314.03" y="2421.00" width="11.20" height="7.90" fill="#d5cd8e"/>
<rect x="312.43" y="2425.60" width="14.40" height="3.60" fill="#000"/>
<circle cx="335.96" cy="1993.00" r="4.1" fill="#000"/>
<circle cx="335.96" cy="2356.70" r="4.1" fill="#000"/>
<circle cx="335.96" cy="2424.00" r="4.1" fill="#000"/>
<circle cx="368.62" cy="2415.00" r="4.1" fill="#000"/>
<circle cx="368.62" cy="2420.00" r="4.1" fill="#000"/>
<circle cx="368.62" cy="2425.00" r="4.1" fill="#000"/>
<circle cx="368.62" cy="2428.90" r="4.1" fill="#000"/>
<rect x="467.90" y="1886.10" width="2.60" height="100.50" fill="#000"/>
<polygon points="465.50,1884.70 472.90,1884.70 472.90,1886.50 470.50,1888.70 467.90,1888.70 465.50,1886.50" fill="#000"/>
<rect x="463.60" y="1986.60" width="11.20" height="363.90" fill="#5294e4"/>
<rect x="462.00" y="2095.70" width="14.40" height="3.60" fill="#000"/>
<rect x="467.70" y="2350.50" width="3.00" height="78.40" fill="#000"/>
<polygon points="465.50,2430.30 472.90,2430.30 472.90,2428.50 470.70,2426.30 467.70,2426.30 465.50,2428.50" fill="#000"/>
<rect x="484.43" y="2137.00" width="2.20" height="137.00" fill="#000"/>
<polygon points="481.83,2135.60 489.23,2135.60 489.23,2137.40 486.63,2139.60 484.43,2139.60 481.83,2137.40" fill="#000"/>
<rect x="479.93" y="2274.00" width="11.20" height="123.30" fill="#d6002f"/>
<rect x="478.33" y="2325.40" width="14.40" height="3.60" fill="#000"/>
<rect x="484.13" y="2397.30" width="2.80" height="31.60" fill="#000"/>
<polygon points="481.83,2430.30 489.23,2430.30 489.23,2428.50 486.93,2426.30 484.13,2426.30 481.83,2428.50" fill="#000"/>
<circle cx="485.53" cy="1804.60" r="4.1" fill="#000"/>
<circle cx="501.86" cy="1947.10" r="4.1" fill="#000"/>
<circle cx="501.86" cy="2084.10" r="4.1" fill="#000"/>
<circle cx="501.86" cy="2311.00" r="4.1" fill="#000"/>
<rect x="500.66" y="2397.30" width="2.40" height="7.50" fill="#000"/>
<polygon points="498.16,2395.90 505.56,2395.90 505.56,2397.70 503.06,2399.90 500.66,2399.90 498.16,2397.70" fill="#000"/>
<rect x="496.26" y="2404.80" width="11.20" height="22.20" fill="#288528"/>
<rect x="494.66" y="2422.40" width="14.40" height="3.60" fill="#000"/>
<circle cx="518.19" cy="2391.60" r="4.1" fill="#000"/>
<circle cx="518.19" cy="2412.60" r="4.1" fill="#000"/>
<circle cx="518.19" cy="2422.00" r="4.1" fill="#000"/>
<circle cx="518.19" cy="2428.90" r="4.1" fill="#000"/>
<rect x="549.55" y="2336.30" width="2.60" height="35.90" fill="#000"/>
<polygon points="547.15,2334.90 554.55,2334.90 554.55,2336.70 552.15,2338.90 549.55,2338.90 547.15,2336.70" fill="#000"/>
<rect x="545.25" y="2372.20" width="11.20" height="39.50" fill="#02b3a0"/>
<rect x="543.65" y="2397.30" width="14.40" height="3.60" fill="#000"/>
<rect x="549.55" y="2411.70" width="2.60" height="17.20" fill="#000"/>
<polygon points="547.15,2430.30 554.55,2430.30 554.55,2428.50 552.15,2426.30 549.55,2426.30 547.15,2428.50" fill="#000"/>
<circle cx="567.18" cy="2349.80" r="4.1" fill="#000"/>
<circle cx="567.18" cy="2361.90" r="4.1" fill="#000"/>
<rect x="565.98" y="2403.50" width="2.40" height="9.80" fill="#000"/>
<polygon points="563.48,2402.10 570.88,2402.10 570.88,2403.90 568.38,2406.10 565.98,2406.10 563.48,2403.90" fill="#000"/>
<rect x="561.58" y="2413.30" width="11.20" height="10.30" fill="#ffc0de"/>
<rect x="559.98" y="2416.70" width="14.40" height="3.60" fill="#000"/>
<rect x="565.98" y="2423.60" width="2.40" height="5.30" fill="#000"/>
<polygon points="563.48,2430.30 570.88,2430.30 570.88,2428.50 568.38,2426.30 565.98,2426.30 563.48,2428.50" fill="#000"/>
<circle cx="583.51" cy="1863.30" r="4.1" fill="#000"/>
<circle cx="583.51" cy="2088.40" r="4.1" fill="#000"/>
<circle cx="583.51" cy="2137.00" r="4.1" fill="#000"/>
<circle cx="583.51" cy="2154.80" r="4.1" fill="#000"/>
<circle cx="583.51" cy="2181.60" r="4.1" fill="#000"/>
<circle cx="583.51" cy="2293.00" r="4.1" fill="#000"/>
<circle cx="583.51" cy="2395.00" r="4.1" fill="#000"/>
<circle cx="616.17" cy="2359.60" r="4.1" fill="#000"/>
<circle cx="616.17" cy="2379.00" r="4.1" fill="#000"/>
<rect x="614.97" y="2419.00" width="2.40" height="6.20" fill="#000"/>
<polygon points="612.47,2417.60 619.87,2417.60 619.87,2419.40 617.37,2421.60 614.97,2421.60 612.47,2419.40" fill="#000"/>
<rect x="610.57" y="2425.20" width="11.20" height="3.70" fill="#3e59a8"/>
<circle cx="632.50" cy="2116.50" r="4.1" fill="#000"/>
<circle cx="632.50" cy="2135.20" r="4.1" fill="#000"/>
<circle cx="632.50" cy="2215.80" r="4.1" fill="#000"/>
<circle cx="632.50" cy="2396.20" r="4.1" fill="#000"/>
<circle cx="632.50" cy="2424.70" r="4.1" fill="#000"/>
<circle cx="648.83" cy="2364.20" r="4.1" fill="#000"/>
<circle cx="648.83" cy="2371.00" r="4.1" fill="#000"/>
<rect x="647.63" y="2401.20" width="2.40" height="15.50" fill="#000"/>
<polygon points="645.13,2399.80 652.53,2399.80 652.53,2401.60 650.03,2403.80 647.63,2403.80 645.13,2401.60" fill="#000"/>
<rect x="643.23" y="2416.70" width="11.20" height="12.20" fill="#d5cd8e"/>
<rect x="641.63" y="2425.20" width="14.40" height="3.60" fill="#000"/>
<circle cx="665.16" cy="2156.00" r="4.1" fill="#000"/>
<circle cx="697.82" cy="2399.60" r="4.1" fill="#000"/>
<circle cx="697.82" cy="2412.10" r="4.1" fill="#000"/>
<circle cx="697.82" cy="2423.10" r="4.1" fill="#000"/>
<circle cx="697.82" cy="2428.90" r="4.1" fill="#000"/>
<rect x="797.30" y="1925.10" width="2.40" height="6.90" fill="#000"/>
<polygon points="794.80,1923.70 802.20,1923.70 802.20,1925.50 799.70,1927.70 797.30,1927.70 794.80,1925.50" fill="#000"/>
<rect x="792.90" y="1932.00" width="11.20" height="87.90" fill="#5294e4"/>
<rect x="791.30" y="1951.30" width="14.40" height="3.60" fill="#000"/>
<rect x="797.30" y="2019.90" width="2.40" height="5.10" fill="#000"/>
<polygon points="794.80,2026.40 802.20,2026.40 802.20,2024.60 799.70,2022.40 797.30,2022.40 794.80,2024.60" fill="#000"/>
<circle cx="798.50" cy="2428.90" r="4.1" fill="#000"/>
<rect x="813.63" y="2338.90" width="2.40" height="7.30" fill="#000"/>
<polygon points="811.13,2337.50 818.53,2337.50 818.53,2339.30 816.03,2341.50 813.63,2341.50 811.13,2339.30" fill="#000"/>
<rect x="809.23" y="2346.20" width="11.20" height="70.10" fill="#d6002f"/>
<rect x="807.63" y="2359.20" width="14.40" height="3.60" fill="#000"/>
<rect x="813.53" y="2416.30" width="2.60" height="12.60" fill="#000"/>
<polygon points="811.13,2430.30 818.53,2430.30 818.53,2428.50 816.13,2426.30 813.53,2426.30 811.13,2428.50" fill="#000"/>
<circle cx="831.16" cy="2149.10" r="4.1" fill="#000"/>
<rect x="829.86" y="2366.00" width="2.60" height="31.50" fill="#000"/>
<polygon points="827.46,2364.60 834.86,2364.60 834.86,2366.40 832.46,2368.60 829.86,2368.60 827.46,2366.40" fill="#000"/>
<rect x="825.56" y="2397.50" width="11.20" height="31.40" fill="#288528"/>
<rect x="823.96" y="2426.20" width="14.40" height="3.60" fill="#000"/>
<circle cx="847.49" cy="2419.20" r="4.1" fill="#000"/>
<rect x="878.85" y="2271.50" width="2.60" height="29.70" fill="#000"/>
<polygon points="876.45,2270.10 883.85,2270.10 883.85,2271.90 881.45,2274.10 878.85,2274.10 876.45,2271.90" fill="#000"/>
<rect x="874.55" y="2301.20" width="11.20" height="108.20" fill="#02b3a0"/>
<rect x="872.95" y="2369.50" width="14.40" height="3.60" fill="#000"/>
<rect x="878.85" y="2409.40" width="2.60" height="19.50" fill="#000"/>
<polygon points="876.45,2430.30 883.85,2430.30 883.85,2428.50 881.45,2426.30 878.85,2426.30 876.45,2428.50" fill="#000"/>
<rect x="895.28" y="2414.70" width="2.40" height="4.30" fill="#000"/>
<polygon points="892.78,2413.30 900.18,2413.30 900.18,2415.10 897.68,2417.30 895.28,2417.30 892.78,2415.10" fill="#000"/>
<rect x="890.88" y="2419.00" width="11.20" height="5.00" fill="#ffc0de"/>
<rect x="889.28" y="2423.70" width="14.40" height="3.60" fill="#000"/>
<rect x="911.51" y="2320.60" width="2.60" height="64.80" fill="#000"/>
<polygon points="909.11,2319.20 916.51,2319.20 916.51,2321.00 914.11,2323.20 911.51,2323.20 909.11,2321.00" fill="#000"/>
<rect x="907.21" y="2385.40" width="11.20" height="43.50" fill="#a94af3"/>
<circle cx="945.47" cy="2426.00" r="4.1" fill="#000"/>
<circle cx="978.13" cy="2398.70" r="4.1" fill="#000"/>
<rect x="971.13" y="2425.50" width="14.00" height="3.40" fill="#000"/>
<rect x="975.13" y="2421.00" width="6.00" height="1.50" fill="#888"/>
<circle cx="1027.12" cy="2428.90" r="4.1" fill="#000"/>
<text transform="translate(141.70 2444.70) scale(0.9 1.04)" x="0" y="0" font-family="Liberation Serif" font-size="13.5" font-weight="bold" text-anchor="middle" fill="#000" stroke="#000" stroke-width="0.3">1</text>
<text transform="translate(158.03 2444.70) scale(0.9 1.04)" x="0" y="0" font-family="Liberation Serif" font-size="13.5" font-weight="bold" text-anchor="middle" fill="#000" stroke="#000" stroke-width="0.3">2</text>
<text transform="translate(174.36 2444.70) scale(0.9 1.04)" x="0" y="0" font-family="Liberation Serif" font-size="13.5" font-weight="bold" text-anchor="middle" fill="#000" stroke="#000" stroke-width="0.3">3</text>
<text transform="translate(190.69 2444.70) scale(0.9 1.04)" x="0" y="0" font-family="Liberation Serif" font-size="13.5" font-weight="bold" text-anchor="middle" fill="#000" stroke="#000" stroke-width="0.3">4</text>
<text transform="translate(207.02 2444.70) scale(0.9 1.04)" x="0" y="0" font-family="Liberation Serif" font-size="13.5" font-weight="bold" text-anchor="middle" fill="#000" stroke="#000" stroke-width="0.3">5</text>
<text transform="translate(223.35 2444.70) scale(0.9 1.04)" x="0" y="0" font-family="Liberation Serif" font-size="13.5" font-weight="bold" text-anchor="middle" fill="#000" stroke="#000" stroke-width="0.3">6</text>
<text transform="translate(239.68 2444.70) scale(0.9 1.04)" x="0" y="0" font-family="Liberation Serif" font-size="13.5" font-weight="bold" text-anchor="middle" fill="#000" stroke="#000" stroke-width="0.3">7</text>
<text transform="translate(256.01 2444.70) scale(0.9 1.04)" x="0" y="0" font-family="Liberation Serif" font-size="13.5" font-weight="bold" text-anchor="middle" fill="#000" stroke="#000" stroke-width="0.3">8</text>
<text transform="translate(272.34 2444.70) scale(0.9 1.04)" x="0" y="0" font-family="Liberation Serif" font-size="13.5" font-weight="bold" text-anchor="middle" fill="#000" stroke="#000" stroke-width="0.3">9</text>
<text transform="translate(288.67 2444.70) scale(0.9 1.04)" x="0" y="0" font-family="Liberation Serif" font-size="13.5" font-weight="bold" text-anchor="middle" fill="#000" stroke="#000" stroke-width="0.3">10</text>
<text transform="translate(305.00 2444.70) scale(0.9 1.04)" x="0" y="0" font-family="Liberation Serif" font-size="13.5" font-weight="bold" text-anchor="middle" fill="#000" stroke="#000" stroke-width="0.3">11</text>
<text transform="translate(321.33 2444.70) scale(0.9 1.04)" x="0" y="0" font-family="Liberation Serif" font-size="13.5" font-weight="bold" text-anchor="middle" fill="#000" stroke="#000" stroke-width="0.3">12</text>
<text transform="translate(337.66 2444.70) scale(0.9 1.04)" x="0" y="0" font-family="Liberation Serif" font-size="13.5" font-weight="bold" text-anchor="middle" fill="#000" stroke="#000" stroke-width="0.3">13</text>
<text transform="translate(353.99 2444.70) scale(0.9 1.04)" x="0" y="0" font-family="Liberation Serif" font-size="13.5" font-weight="bold" text-anchor="middle" fill="#000" stroke="#000" stroke-width="0.3">14</text>
<text transform="translate(370.32 2444.70) scale(0.9 1.04)" x="0" y="0" font-family="Liberation Serif" font-size="13.5" font-weight="bold" text-anchor="middle" fill="#000" stroke="#000" stroke-width="0.3">15</text>
<text transform="translate(386.65 2444.70) scale(0.9 1.04)" x="0" y="0" font-family="Liberation Serif" font-size="13.5" font-weight="bold" text-anchor="middle" fill="#000" stroke="#000" stroke-width="0.3">16</text>
<text transform="translate(470.40 2444.70) scale(0.9 1.04)" x="0" y="0" font-family="Liberation Serif" font-size="13.5" font-weight="bold" text-anchor="middle" fill="#000" stroke="#000" stroke-width="0.3">1</text>
<text transform="translate(486.73 2444.70) scale(0.9 1.04)" x="0" y="0" font-family="Liberation Serif" font-size="13.5" font-weight="bold" text-anchor="middle" fill="#000" stroke="#000" stroke-width="0.3">2</text>
<text transform="translate(503.06 2444.70) scale(0.9 1.04)" x="0" y="0" font-family="Liberation Serif" font-size="13.5" font-weight="bold" text-anchor="middle" fill="#000" stroke="#000" stroke-width="0.3">3</text>
<text transform="translate(519.39 2444.70) scale(0.9 1.04)" x="0" y="0" font-family="Liberation Serif" font-size="13.5" font-weight="bold" text-anchor="middle" fill="#000" stroke="#000" stroke-width="0.3">4</text>
<text transform="translate(535.72 2444.70) scale(0.9 1.04)" x="0" y="0" font-family="Liberation Serif" font-size="13.5" font-weight="bold" text-anchor="middle" fill="#000" stroke="#000" stroke-width="0.3">5</text>
<text transform="translate(552.05 2444.70) scale(0.9 1.04)" x="0" y="0" font-family="Liberation Serif" font-size="13.5" font-weight="bold" text-anchor="middle" fill="#000" stroke="#000" stroke-width="0.3">6</text>
<text transform="translate(568.38 2444.70) scale(0.9 1.04)" x="0" y="0" font-family="Liberation Serif" font-size="13.5" font-weight="bold" text-anchor="middle" fill="#000" stroke="#000" stroke-width="0.3">7</text>
<text transform="translate(584.71 2444.70) scale(0.9 1.04)" x="0" y="0" font-family="Liberation Serif" font-size="13.5" font-weight="bold" text-anchor="middle" fill="#000" stroke="#000" stroke-width="0.3">8</text>
<text transform="translate(601.04 2444.70) scale(0.9 1.04)" x="0" y="0" font-family="Liberation Serif" font-size="13.5" font-weight="bold" text-anchor="middle" fill="#000" stroke="#000" stroke-width="0.3">9</text>
<text transform="translate(617.37 2444.70) scale(0.9 1.04)" x="0" y="0" font-family="Liberation Serif" font-size="13.5" font-weight="bold" text-anchor="middle" fill="#000" stroke="#000" stroke-width="0.3">10</text>
<text transform="translate(633.70 2444.70) scale(0.9 1.04)" x="0" y="0" font-family="Liberation Serif" font-size="13.5" font-weight="bold" text-anchor="middle" fill="#000" stroke="#000" stroke-width="0.3">11</text>
<text transform="translate(650.03 2444.70) scale(0.9 1.04)" x="0" y="0" font-family="Liberation Serif" font-size="13.5" font-weight="bold" text-anchor="middle" fill="#000" stroke="#000" stroke-width="0.3">12</text>
<text transform="translate(666.36 2444.70) scale(0.9 1.04)" x="0" y="0" font-family="Liberation Serif" font-size="13.5" font-weight="bold" text-anchor="middle" fill="#000" stroke="#000" stroke-width="0.3">13</text>
<text transform="translate(682.69 2444.70) scale(0.9 1.04)" x="0" y="0" font-family="Liberation Serif" font-size="13.5" font-weight="bold" text-anchor="middle" fill="#000" stroke="#000" stroke-width="0.3">14</text>
<text transform="translate(699.02 2444.70) scale(0.9 1.04)" x="0" y="0" font-family="Liberation Serif" font-size="13.5" font-weight="bold" text-anchor="middle" fill="#000" stroke="#000" stroke-width="0.3">15</text>
<text transform="translate(715.35 2444.70) scale(0.9 1.04)" x="0" y="0" font-family="Liberation Serif" font-size="13.5" font-weight="bold" text-anchor="middle" fill="#000" stroke="#000" stroke-width="0.3">16</text>
<text transform="translate(797.90 2444.70) scale(0.9 1.04)" x="0" y="0" font-family="Liberation Serif" font-size="13.5" font-weight="bold" text-anchor="middle" fill="#000" stroke="#000" stroke-width="0.3">1</text>
<text transform="translate(814.23 2444.70) scale(0.9 1.04)" x="0" y="0" font-family="Liberation Serif" font-size="13.5" font-weight="bold" text-anchor="middle" fill="#000" stroke="#000" stroke-width="0.3">2</text>
<text transform="translate(830.56 2444.70) scale(0.9 1.04)" x="0" y="0" font-family="Liberation Serif" font-size="13.5" font-weight="bold" text-anchor="middle" fill="#000" stroke="#000" stroke-width="0.3">3</text>
<text transform="translate(846.89 2444.70) scale(0.9 1.04)" x="0" y="0" font-family="Liberation Serif" font-size="13.5" font-weight="bold" text-anchor="middle" fill="#000" stroke="#000" stroke-width="0.3">4</text>
<text transform="translate(863.22 2444.70) scale(0.9 1.04)" x="0" y="0" font-family="Liberation Serif" font-size="13.5" font-weight="bold" text-anchor="middle" fill="#000" stroke="#000" stroke-width="0.3">5</text>
<text transform="translate(879.55 2444.70) scale(0.9 1.04)" x="0" y="0" font-family="Liberation Serif" font-size="13.5" font-weight="bold" text-anchor="middle" fill="#000" stroke="#000" stroke-width="0.3">6</text>
<text transform="translate(895.88 2444.70) scale(0.9 1.04)" x="0" y="0" font-family="Liberation Serif" font-size="13.5" font-weight="bold" text-anchor="middle" fill="#000" stroke="#000" stroke-width="0.3">7</text>
<text transform="translate(912.21 2444.70) scale(0.9 1.04)" x="0" y="0" font-family="Liberation Serif" font-size="13.5" font-weight="bold" text-anchor="middle" fill="#000" stroke="#000" stroke-width="0.3">8</text>
<text transform="translate(928.54 2444.70) scale(0.9 1.04)" x="0" y="0" font-family="Liberation Serif" font-size="13.5" font-weight="bold" text-anchor="middle" fill="#000" stroke="#000" stroke-width="0.3">9</text>
<text transform="translate(944.87 2444.70) scale(0.9 1.04)" x="0" y="0" font-family="Liberation Serif" font-size="13.5" font-weight="bold" text-anchor="middle" fill="#000" stroke="#000" stroke-width="0.3">10</text>
<text transform="translate(961.20 2444.70) scale(0.9 1.04)" x="0" y="0" font-family="Liberation Serif" font-size="13.5" font-weight="bold" text-anchor="middle" fill="#000" stroke="#000" stroke-width="0.3">11</text>
<text transform="translate(977.53 2444.70) scale(0.9 1.04)" x="0" y="0" font-family="Liberation Serif" font-size="13.5" font-weight="bold" text-anchor="middle" fill="#000" stroke="#000" stroke-width="0.3">12</text>
<text transform="translate(993.86 2444.70) scale(0.9 1.04)" x="0" y="0" font-family="Liberation Serif" font-size="13.5" font-weight="bold" text-anchor="middle" fill="#000" stroke="#000" stroke-width="0.3">13</text>
<text transform="translate(1010.19 2444.70) scale(0.9 1.04)" x="0" y="0" font-family="Liberation Serif" font-size="13.5" font-weight="bold" text-anchor="middle" fill="#000" stroke="#000" stroke-width="0.3">14</text>
<text transform="translate(1026.52 2444.70) scale(0.9 1.04)" x="0" y="0" font-family="Liberation Serif" font-size="13.5" font-weight="bold" text-anchor="middle" fill="#000" stroke="#000" stroke-width="0.3">15</text>
<text transform="translate(1042.85 2444.70) scale(0.9 1.04)" x="0" y="0" font-family="Liberation Serif" font-size="13.5" font-weight="bold" text-anchor="middle" fill="#000" stroke="#000" stroke-width="0.3">16</text>
</g>
</svg></body></html>
